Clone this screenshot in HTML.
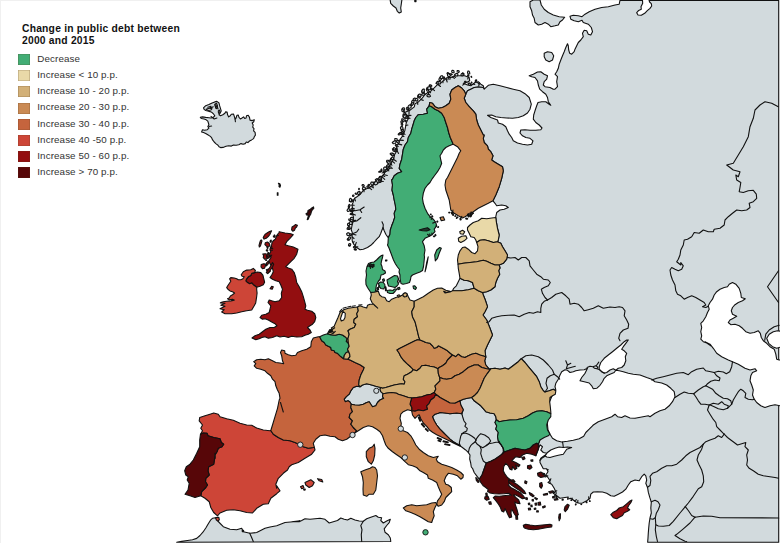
<!DOCTYPE html>
<html><head><meta charset="utf-8"><title>Change in public debt between 2000 and 2015</title>
<style>
html,body{margin:0;padding:0;background:#fff;}
body{width:780px;height:543px;overflow:hidden;position:relative;font-family:"Liberation Sans",sans-serif;}
svg{position:absolute;left:0;top:0;}
.c{stroke:#111;stroke-width:1.1;stroke-linejoin:round;}
.l{fill:none;stroke:#111;stroke-width:1.1;stroke-linejoin:round;stroke-linecap:round;}
.d{stroke:#111;stroke-width:0.9;}
.t{position:absolute;left:22px;top:23.4px;font-weight:bold;font-size:10.3px;line-height:12px;color:#111;white-space:nowrap;letter-spacing:0.22px;}
.sw{position:absolute;left:18.4px;width:11.6px;height:11px;box-shadow:inset 0 0 0 0.6px rgba(90,60,30,0.35);}
.lb{position:absolute;left:37.3px;font-size:9.8px;line-height:14px;color:#333;white-space:nowrap;letter-spacing:0.1px;}
</style></head><body>
<svg width="780" height="543" viewBox="0 0 780 543">
<path d="M0.5,0V543M0,0.5H620" fill="none" stroke="#f0f0f0" stroke-width="1"/>
<path class="c" fill="#d2dadd" d="M360,386.7 362.5,385 366.7,383.7 371.7,385 375.8,386.3 380.8,387.5 380,389.2 380.8,391.7 383,393.7 382.5,396.7 383.7,398.3 380,400 377.5,402.5 375.8,405.8 372.5,406.7 370.8,404.2 369.2,401.7 366.7,402.5 363.3,404.2 359.2,405.3 355,405 351.3,404.2 349.7,401.7 348,400.7 345.3,401.7 344.2,399.2 346.3,396.7 349.2,394.2 350.8,390.8 353.3,387.5 356.7,386.2Z"/>
<path class="c" fill="#d2dadd" d="M460,278.3 464.2,280.3 468.3,280.8 472.5,282.5 474.2,288.3 468.3,289.7 461.7,290.8 452.5,290.8 453.7,288.3 456.3,285.8 458.3,281.7Z"/>
<path class="c" fill="#d2dadd" d="M388.3,237.7 387.5,236.7 385.8,234.2 384.2,230.8 383,227.5 382,230 380.8,233.3 379.2,236.7 376.7,239.2 373.7,242.5 370.8,245.3 367.5,247.5 363.3,249.2 360,249.7 356.7,247.5 353.86,244.43 352.24,241.01 352.06,237.05 352.32,232.59 351.19,229.79 351.83,226.44 352.84,222.31 353.49,217.31 352.39,213.07 352.89,209.01 351.89,205.23 353.31,201.89 354.31,198.56 356.93,196.75 360.58,193.94 363.06,190.56 364.71,189.57 369.06,187.79 372.36,185.29 376.01,183.84 380.89,181.88 382.16,176.21 384.43,173.37 385.86,170.21 389.25,166.93 391.11,163.23 393.77,158.7 394.66,154.51 397.33,149.87 396.43,146.47 398.66,143.14 400.29,139.06 402.79,135.76 404.77,130.91 405.64,126.41 406.27,122.88 408.98,117.12 404.92,112.91 403.87,112.6 405.76,111.99 409.86,110.29 414.29,106.88 414.92,103.79 418.68,101.72 422.42,97.89 424.76,94.76 427.73,92.55 427.23,92.86 431.06,90.91 433.96,88.06 436.96,85.03 441.03,82.62 445.3,79.2 446.81,77.74 451.28,77.36 455,75.7 459.73,75.78 464.73,75.75 469.2,77.5 469.7,80.8 466.7,82.5 463.3,83.3 467.5,85 470.8,85.8 475,82.5 478.3,81.7 480.8,84.2 483.3,85.8 484.2,89.2 484.2,90.8 483.3,87.5 478.3,87 474.2,87.5 470.8,89.2 467.5,90.8 465.8,94.2 464.2,90.8 461.7,88 458.3,85.8 455,87.5 451.7,90 450,94.2 450.8,99.2 449.2,103.3 445.8,105.8 442.5,107.5 438.3,108.3 435,106.7 432.5,103.3 429.7,102.5 429.2,105.8 426.7,109.2 427.5,113.3 423.3,114.2 418.3,114.7 415.8,117.5 414.2,120.8 413,125 411.7,129.2 410.8,133.3 408.3,137.5 407.5,141.7 405,145 403.3,149.2 402.5,154.2 401.7,159.2 400,164.2 399.2,168.3 401.7,171.7 397.5,173.3 394.2,175.8 392.5,179.2 391.7,180 392.5,185 392,190 393.3,195 394.2,200 395.3,205 395.8,209.2 394.2,213.3 394.7,217.5 393.3,221.7 391.7,225.8 390.3,230 390,234.2Z"/>
<path class="c" fill="#d2dadd" d="M620,0.4 619.2,4.2 615,5 608.3,6.7 601.7,7.5 595,9.2 589.2,11.7 585,14.2 582,16.7 578.3,15.8 573.3,15.3 570,16.3 570.8,19.2 574.2,20.8 578.3,21.7 582,20.3 583.3,22.5 588.3,24.2 591.3,27.5 592.5,31.7 590.8,35 588.3,34.2 586.7,30.8 584.2,30.3 582.5,33.3 583.3,36.7 580.8,40 578.3,42.5 576.7,45.8 575,49.2 574.2,51.7 571.7,54.2 569.7,53.3 568.7,50 568.3,45.8 567.5,43.7 565.8,47.5 564.2,51.7 562.5,55.8 560.8,60 559.2,64.2 558.3,68.3 556.7,71.7 555,74.2 557.5,76.7 556.7,81.7 557.5,86.7 555,89.2 553.3,89.2 550,87.5 545,86.7 543.3,85 544.2,81.7 546.7,79.2 547.5,75.8 544.2,74.2 540.8,71.7 537.5,72 533.3,74.2 529.2,75.8 531.7,76.7 535,77.5 537.5,80.8 538.3,85 539.7,89.2 542.5,91.7 545.8,94.2 547.5,97.5 548.3,101.7 550.8,105.3 549.2,104.2 545.8,101.7 541.7,101.7 538,102.5 536.7,105.8 535,110.8 533.7,115 533.3,119.2 535.8,122.5 539.2,125 542,128 540.8,129.7 535.8,130.3 530,130.3 525,129.7 520.8,130 520,133 522.5,135.8 525.8,137.5 530,138.3 533,140.8 531.7,144.2 527.5,145 522.5,144.2 517.5,143 513.3,140.8 511.7,137.5 509.2,134.2 507.5,130.8 505.8,126.7 502.5,124.2 498.3,123 497.5,120 494.2,118.7 490.8,117.5 487.5,115.3 491.7,115 495.8,116.7 500.8,117.5 506.7,118 512.5,118.3 518.3,117.5 523.3,115.8 527.5,113 530,109.2 531.3,104.2 529.2,97.5 525,93.7 520,90.8 513.3,89.2 506.7,87.5 500,85.8 493.3,84.2 488.3,85.3 484.2,89.2 483.3,87.5 478.3,87 474.2,87.5 470.8,89.2 467.5,90.8 465.8,94.2 464.2,98.3 465.8,102.5 469.2,106.7 473.3,110.8 475.8,114.2 476.7,120 478.3,125 480.8,130 483.3,135 484.2,135 483.3,138.3 484.2,142.5 487.5,145.8 488.3,149.2 490.8,151.7 493,155.8 491.7,160 494.2,161.7 498.3,164.2 502.5,166.7 503.3,170.8 501.7,178.3 499.2,186.7 495.8,195 493,200.8 495,203.3 496.7,205.8 501.7,205 505.8,205.8 508.3,207.5 504.2,209.2 500,210 496.7,212.5 495.8,216.7 495.8,217.5 496.3,221.7 497.5,228.3 499.2,235 498.3,240 497.5,241.7 500.8,243.3 502.5,246.7 505,250.8 507.5,255 506.7,259.2 503.3,263.3 499.2,265 500,268 498.7,270.8 499.7,274.2 497.5,278.3 495.8,282.5 495,286.7 490.8,290 486.7,291.7 482.5,292.5 483.3,295 485.3,300 487.5,306.7 485,311.7 483,315 486.7,320 490,328.3 492.5,335 490,340 487.5,345 485,350.8 485.8,357 484.7,360.8 485.8,365 489.2,369.2 490.8,368.8 495,368.3 500,369.2 505,368 508.3,369.2 511.7,366.7 515,364.2 518.3,361.7 521.3,358.7 525,362.5 528.3,366.7 532.5,371.7 536.7,376.7 539.2,381.7 540.8,386.7 543.3,390.8 545,392 549.2,390.8 553.3,389.2 555.8,390.8 548,400 545,425 538.3,444.2 538.3,449.2 536.7,453.3 535.8,455.8 540,444.7 542.5,446.7 540.8,450 543.3,452.5 546.7,453.3 550,451.3 547.5,453.7 544.2,455.8 540.8,458.3 540,460 540,462.5 543.3,468.7 546.7,468.7 548,471.7 545.8,475 548.3,478 550,480.8 548,482.5 551.7,484.2 554.2,488.3 555.8,491.7 553.3,493.3 556.7,495.8 560,498.3 565,497.5 568.3,497 567.5,499.2 570.8,498.3 573.3,500 575.8,502 579.2,503.3 582.5,503 586.7,500.8 590,498.3 590.8,494.2 593.3,492 597.5,491.7 602.5,492 606.7,493.3 610.8,495.8 614.2,496.3 618.3,494.2 622.5,492 625.8,489.2 628.3,485 630.8,481.7 635,480 639.2,480.8 641.7,476.7 644.2,474.2 645.8,475.8 646.7,480 645.8,483.3 647.5,487.5 647.5,487.2 648.3,492.2 649.7,497.2 651.3,502.2 650.8,508 651.3,513 650,518 649.2,523 648.7,528 648.3,533 648,538 647.7,541.5 647.7,542.2 778.7,542.2 778.7,0.4Z"/>
<path class="c" fill="#d2dadd" d="M544.2,53.3 547.5,51.7 551.7,52.5 553.7,55.8 552.5,60 549.2,61.7 545.8,60 544.2,56.7Z"/>
<path class="c" fill="#d2dadd" d="M530,1.7 533.3,0 540,0 541.3,5 544.2,9.2 548.3,12.5 553.3,15 559.2,16.7 564.7,17.2 562.5,20 560,21.7 558.3,25 555,25.8 550.8,26.7 548.3,24.2 545,22.5 541.7,24.2 538.3,25 535,22.5 534.2,18.3 532.5,15 531.7,10.8 530,6.7Z"/>
<path class="c" fill="#d2dadd" d="M461.7,413.7 456.7,413 450,413.7 445,413 440,412.5 438.3,413.3 435,414.2 432.5,416.7 434.2,420.8 436.7,425 440,429.2 443.3,432.5 446.7,435.8 450,439.2 453.3,441.7 456.7,443.7 460,445.3 460,445.7 462.7,447.7 465.3,449.7 468,452.1 470,455 469.7,459 470.7,463 471.3,467 472.5,468.3 474.2,472.5 476.7,475.8 479.2,479.2 482,475 483.8,470 485.3,465.8 486.3,463 490.8,461.3 495.3,459 500,455.8 504.2,452 503.3,448.3 500.8,444.2 498.3,440.8 497.5,436.7 498.3,432.5 495.8,429.2 496.7,425.8 495,422.5 496.3,419.7 495.8,416.7 494.2,413.7 490,413 485.8,411.7 483.7,409.2 480.8,405.8 477.5,403.3 474.2,400.8 471.7,397.5 467.5,398.3 463.3,399.2 460,400.8 460.8,405 463.3,409.7Z"/>
<path class="c" fill="#d2dadd" d="M176.7,542.2 181.7,541.3 187.5,540.5 192.5,539.7 196.7,538.4 200,535.5 202.9,532.2 205.8,528 208.3,523.8 210.8,519.8 212.7,518.2 215.3,517.7 216.7,518.7 218.7,522 223.3,526.7 230,529.2 236.7,529.7 241.7,528.3 243.3,531.7 250,533.3 256.7,532.5 265,528.3 270,527 276.7,525.8 285,522.5 293.3,521.7 300,520.8 291.7,521.7 299.2,521.7 301.7,520.5 305,518.8 310,519.3 315,518.8 320,518.3 325,519.3 329.2,523 333.3,521.7 337.5,520.5 340.8,518 344.2,519.3 347.5,520 350.8,518.3 355,520 359.2,521 363.3,521.3 366.7,518.8 370.8,517.2 375.8,515.5 378.3,517.2 381.7,517.7 380.8,520.5 383.3,523 386.7,521 390.3,519.3 389.2,522.7 386.7,525.5 384.2,528.8 385,532.2 388.3,534.7 390.3,538 390.8,541.5Z"/>
<path class="c" fill="#d2dadd" d="M203.5,107.8 205.7,105.7 208.9,104.6 212.1,103 214.8,101.9 216.9,101.4 219,103 219.6,105.7 220.6,108.9 221.2,111 220.1,113.2 219,114.8 220.6,115.8 222.8,114.8 224.9,113.2 225.5,111.9 227.1,112.1 227.6,114.8 228.7,116.9 230.3,115.8 231.3,114.2 233.5,114 234.3,116.4 235.1,119 236.1,118 236.9,115.3 238.3,115.1 239,117.4 240.4,119 242,118 243.6,116.9 244.7,118.5 246.1,118 246.5,115.8 248.2,115.3 249.5,117.4 250,120.1 252.2,120.6 254.3,119.8 253.8,121.7 252.2,123 253.2,124.9 252.7,127.1 254,128.7 253.6,130.8 255.1,132.4 255.4,135.1 254.3,136.7 253.6,138.6 251.6,139.9 249.5,141 247.9,142.6 246.3,142 245.2,143.6 243.1,144.2 241,143.6 238.8,144.7 236.1,145.2 233.5,145 231.3,146.1 228.7,145.8 226,146.3 223,147.4 220.6,147.6 219,146.8 218,145.2 215.8,143.6 214.2,142 212.6,139.9 211.6,137.7 210,136.1 207.8,134.8 205.7,133.5 203.5,132.6 201.6,131.9 202.5,129.7 204.6,130.3 207.3,129.7 208.9,128.1 207.8,126.5 208.9,124.9 208.4,123 207.8,121.2 206.2,119.8 204.1,119 201.4,118.5 200.3,117.4 202.5,116.9 205.7,117.4 208.9,117.7 211,118 213.2,117.4 214.8,115.8 213.7,114.2 212.1,112.6 210,111.6 207.8,111 205.7,110.5 204.1,109.4Z"/>
<path class="c" fill="#d2dadd" d="M390,-1 390.7,3.3 393.3,6 396,8 397.3,11.3 399.3,13 401.3,12 400.7,8 401.3,4 402,-1Z"/>
<path class="c" fill="#ffffff" d="M555.8,390 555,386.7 555.8,383.3 558.3,379.2 560,375 561.7,371.7 565,369.7 567.5,370.3 570,372.5 573.3,371.7 575.8,370.8 580,370 584.2,369.7 587.5,368.3 585,373.3 581.7,377.5 580,380.8 584.2,381.7 589.2,383 591.7,385.8 593.3,388.7 596.7,388.3 600,385.3 602.5,381.7 604.2,378.3 606.7,375.8 610,374.2 614.2,372.5 615.8,370.3 619.2,370.8 623.3,371.7 628.3,373.3 633.3,374.2 640,375 646.7,377.5 651.7,379.2 655,381.7 661.7,383 666.7,385 670.8,388.3 674.2,391.7 675,396.7 672.5,401.7 669.2,405.8 665,409.2 660,410.8 655,413.3 650,416.7 648.3,415.8 641.7,417 635,418.3 630,418 625,415.8 621.7,417.5 617.5,416.7 615,414.2 611.7,416.7 605,419.2 598.3,421.7 593.3,425 592.5,425.8 589.2,429.2 585.8,432.5 583.7,436.3 579.2,438.7 573.3,440.3 567.5,441.3 561.7,442 556.7,440.8 552.5,438.3 550,434.2 548,430 546,410 552,396Z"/>
<path class="c" fill="#ffffff" d="M615.8,370.3 618.3,368.3 621.7,367.5 624.2,365 625.8,360.8 625.3,356.7 626.7,353.3 624.2,350.8 621.7,349.2 623.3,346.7 625.8,343.3 628.3,340 626.7,340 624.2,341.7 620.8,345 616.7,348.3 612.5,351.7 608.3,355 604.2,358.3 600.8,362.5 599.2,366.7 599.2,369.2 601.7,371.7 604.2,373.3 606.7,372.5 610,370 613.3,368.7Z"/>
<path class="c" fill="#ffffff" d="M547.5,452.5 550.8,450 555,448.3 559.2,447 563.3,447.5 567.5,447 571.7,447.5 566.7,449.2 565,451.7 563.3,454.2 558.3,455.3 554.2,456.3 550,457.5 546.7,457 545,455.8Z"/>
<path class="c" fill="#ffffff" d="M732.5,282.5 735.8,284.2 739.2,288.3 740.8,293.3 741.3,297.5 745.3,298.7 742.5,300.8 738.3,302.5 735,304.7 732.5,307.5 731.3,310.8 732.5,314.2 736.7,316.3 733.3,318.3 730,320 728.3,322.5 730.8,324.7 735,324.2 739.2,325.8 742.5,328.3 745.8,331.7 750,333.3 754.2,332.5 758.3,330.8 760.3,333.3 761.3,337.5 763.3,340.8 766.7,343.3 770,346.7 774.2,349.2 775.8,354.2 776.7,359.2 779.2,360 790,360 790,406 780,405.8 775,404.7 770,405.8 765,407.5 760.8,405.8 756.7,402.5 754.2,399.2 752.5,395 753.3,390 751.7,385 750,380.8 750.8,375.8 752.5,372.5 756.7,370.8 755,368.7 750,370 745,368.3 738.3,364.2 732.5,361.7 728.3,360 721.7,356.7 716.7,353.3 713.3,348.3 710,344.2 705,341.7 710.8,345.8 707.5,343.3 703.3,341.7 700.8,339.2 701.7,335.8 700.8,331.7 701.7,327.5 700.8,323.3 703.3,320.8 705.8,316.7 707.5,312.5 709.2,309.2 708.3,305.8 710,302.5 712.5,299.2 714.2,295 716.7,291.7 720,289.2 724.2,287.5 727.5,286.7 729.2,284.2Z"/>
<path class="c" fill="#ffffff" d="M642.4,-1 642.7,3.3 641,6.7 641.3,9.3 638.7,10.4 636.7,12.7 638,15 641.3,15.3 644.7,13.3 647.3,10.7 650,8.3 651.7,6 651.3,3.7 649.6,2 648.7,-1Z"/>
<path class="c" fill="#ffffff" d="M766.7,338.3 769.2,334.2 773.3,331.7 777.5,330.8 781.7,331.3 781.7,346.7 776.7,348.3 772.5,346.7 768.7,343.3Z"/>
<path class="c" fill="#cd4537" d="M199.7,417.5 205,415.8 210,414.2 213.7,413 218.3,414.2 220,416.7 226.7,418.7 233.3,420.3 240,423.3 246.7,425 251.7,425.3 256.7,428 263.3,430 270,430.8 270.8,430.5 273.3,434.2 278.3,437.5 283.3,440 290,440.8 295,442.5 300,444.7 303.3,446.7 308.3,448.3 313.3,447.5 314.3,447.2 315,450 311.7,454.2 305,458.3 298.3,462.5 291.7,464.7 289.2,466.7 287.5,470 283.3,473.3 278.3,478.3 275.8,484.2 276.7,488.3 276.7,485.8 280,490.8 276.7,493.7 270.8,498.3 268.3,503.7 263.3,504.2 256.7,508.3 252.5,513 246.7,512.5 240,510.8 233.3,509.7 226.7,510.3 220,513 217.5,515.8 213.7,512.5 210.8,507.5 209.2,501.7 205,498.3 200.8,495.8 201.7,491.7 205.8,487.5 207.5,485 205.5,481.7 205.8,478.3 209.2,475 208,470.8 208.7,466.7 213.7,464.2 214.7,458.3 215,453.3 215,458.3 215,455 217,451.7 218.3,448.3 222,446.7 223.7,444.2 221.3,442.5 220,438.7 213.7,437.5 208,435.8 207,433.3 203.3,433 200.5,434.2 202.5,430.8 200.8,428.3 202.5,425 199.2,420.8Z"/>
<path class="c" fill="#570608" d="M200.5,434.2 203.3,433 207,433.3 208,435.8 213.7,437.5 220,438.7 221.3,442.5 223.7,444.2 222,446.7 218.3,448.3 217,451.7 215,455 215,458.3 215,453.3 214.7,458.3 213.7,464.2 208.7,466.7 208,470.8 209.2,475 205.8,478.3 205.5,481.7 207.5,485 205.8,487.5 201.7,491.7 200.8,495.8 195,497.5 190,495.8 185,494.2 188,490 189.2,483.3 187.2,480 188.3,476.7 185.8,475 184.7,470.8 186.3,466.7 186.3,466.7 190,464.2 193.3,460 196.7,453.3 199.7,446.7 199.7,440Z"/>
<path class="c" fill="#cd4537" d="M305,482.5 310.8,479.7 314.2,482.5 312.5,485.8 309.2,487.5 305.8,485Z"/>
<path class="c" fill="#cd4537" d="M317.5,478.7 321.7,479.5 322.8,482 319.2,480.8Z"/>
<path class="c" fill="#cd4537" d="M300.5,486.7 303,485.5 304,488 301.7,488.7Z"/>
<path class="c" fill="#cd4537" d="M303.7,489.2 305.3,489 305,490.2 303.7,490Z"/>
<path class="c" fill="#c5643d" d="M319.7,336.7 321.7,340.8 324.2,342.5 325.8,345 328.3,346.3 330.8,347.5 331.3,350 334.2,350.8 335,352.5 337.5,353.3 340,355.8 342,357.5 343.7,358.7 348,359.2 350,360 355,362.5 360,364.7 364.2,367.5 363.3,370 360.8,375 359.2,380 358.7,385 360,386.7 356.7,386.2 353.3,387.5 350.8,390.8 349.2,394.2 346.3,396.7 344.2,399.2 345.3,401.7 348,400.7 349.7,401.7 351.3,404.2 351.3,404.2 350.8,407.5 352.5,411.7 350,414.2 349.2,417.5 352.5,420.8 350.8,424.2 353.3,427.5 356.7,430.8 354.2,433.3 350,436.7 346.7,439.2 342.5,440.8 338.3,439.2 335,436.7 330,436.3 325,435 320,435.8 315.8,439.2 313.3,443.3 314.3,447.2 313.3,447.5 308.3,448.3 303.3,446.7 300,444.7 295,442.5 290,440.8 283.3,440 278.3,437.5 273.3,434.2 270.8,430.5 272.5,425 275,416.7 277.5,408.3 279.2,400 280,398.3 279.2,393.3 277.5,390 275.8,385.8 275,381.7 272.5,379.2 270.8,375.8 267.5,373.3 265,370.8 260.8,369.2 256.7,368.3 254.2,365.8 255.8,363.7 253.7,361.7 256.7,359.7 260.8,359.2 265,359.7 268.3,358.7 272.5,360.8 275.8,362.5 280,363 283.7,363.7 282.5,360.8 281.7,355.8 280.5,352.5 281.7,350 284.7,350.8 285,353.3 288.3,354.7 291.7,355.8 295.8,355.3 297.5,352.5 301.7,350.8 306.7,349.2 310.8,346.7 311.3,341.7 313.3,338 318.3,336.7Z"/>
<path class="c" fill="#42ad75" d="M343.7,358.7 342,357.5 340,355.8 337.5,353.3 335,352.5 334.2,350.8 331.3,350 330.8,347.5 328.3,346.3 325.8,345 324.2,342.5 321.7,340.8 319.7,336.7 323.3,335 327.5,333.7 330.8,334.7 335,335.3 339.2,334.2 342.5,335 345,336.7 347,338.7 346.3,341.3 348.3,343 349.2,346.3 347.5,349.2 348.7,351.7 346.3,352.5 344.3,355.3Z"/>
<path class="c" fill="#d2b078" d="M343.7,358.7 348,359.2 350,356.7 349.7,354.2 348.7,351.7 346.3,352.5 344.3,355.3Z"/>
<path class="c" fill="#d2b078" d="M327.5,333.7 328.7,331.3 330.8,332 329.7,329.7 332.5,330 331.3,328 334.2,326.3 335.8,322.5 338,317.5 340,312.5 343.7,309.7 348.3,308.3 353.3,307.5 357.5,307 358.3,310.8 356.7,313.7 357.5,316.7 354.2,319.2 353.7,322.5 355.8,324.2 354.2,327.5 350,329.2 348,330.8 349.2,334.2 348,338.3 348.3,343 346.3,341.3 347,338.7 345,336.7 342.5,335 339.2,334.2 335,335.3 330.8,334.7 327.5,333.7Z"/>
<path class="c" fill="#ffffff" d="M343,311.3 345.3,313.3 345,317.5 343.7,320 341.3,321 340.5,318.7 341.7,315Z"/>
<path class="c" fill="#930e10" d="M279.2,231.7 285,233 290.8,233.7 293.3,234.7 290,238.3 286.7,241.7 285,244.7 288.3,245.8 293.3,247 298,249.2 296.7,254.2 294.2,258.3 290.8,261.7 288.3,264.2 285.8,266.7 288.3,268 291.7,269.2 294.2,272.5 295.8,277.5 296.7,282.5 299.2,286.7 301.7,291.7 303.3,296.7 304.7,301.7 305.8,305.8 305,309.2 307.5,310.3 311.7,311.3 314.7,313.7 315.8,317.5 314.7,321.7 312.5,324.2 310,325.8 307.5,327.5 310,330 311.3,332.5 308.3,334.2 305,335.3 301.7,336.7 296.7,337 291.7,336.3 288.3,337.5 284.2,336.3 280,337 276.7,335.8 272.5,337.5 268.3,338.3 265,336.7 262,337.5 259.2,338.7 255.8,339.7 252,338 255,335.8 259.2,334.2 262.5,331.7 265.8,329.2 270,327.5 274.2,327.5 277,325.8 275,323.7 271.7,322 268.3,320 265,318.7 262.5,319.2 260,317.5 261.7,315.3 265.8,314.2 269.2,312.5 270,309.2 270.8,305.8 268,302.5 269.2,300 271.7,300.8 275,301.7 279.2,300.8 281.7,297.5 281.3,293.3 282.5,289.2 280.8,285 279.2,281.7 275.8,280.8 272.5,279.2 270,277.5 271.7,275 273.3,271.7 272.5,268.3 268.7,261.2 269.9,259.1 271.2,257 269.9,255.3 269.5,253.7 270.8,251.6 269.9,249.5 270.8,247 271.6,244.9 272,242.8 273.2,240.8 275.3,239.1 276.2,237 277.4,234.5 279.5,232Z"/>
<path class="c" fill="#930e10" d="M271.6,230.8 270.8,232.4 269.9,234.5 268.2,236.6 266.2,238.2 264.1,239.1 263.2,237.8 264.1,235.8 265.3,234.1 267.4,232.8 269.5,231.6Z"/>
<path class="c" fill="#930e10" d="M261.2,239.9 262,240.8 261.3,243.2 260.5,245.8 259.3,247 259,245.3 259.7,242.8 260.3,240.8Z"/>
<path class="c" fill="#930e10" d="M265.3,242.8 267.4,242 269.1,243.2 269.9,244.9 269.1,246.6 267.4,247 266.2,245.8 264.9,244.5Z"/>
<path class="c" fill="#930e10" d="M262.8,254.1 265.3,253.7 268.2,254.5 269.9,255.8 269.1,257.4 267,258.7 264.5,259.1 263.2,257.4 263.7,255.8Z"/>
<path class="c" fill="#930e10" d="M261.2,264.5 263.7,263.7 265.8,264.1 265.3,266.2 264.5,268.2 262.4,268.7 261,267Z"/>
<path class="c" fill="#930e10" d="M266.6,262.8 268.2,261.2 269.1,262 267.8,264.5 266.3,265.8Z"/>
<path class="c" fill="#930e10" d="M266.3,269.7 269.2,268.7 270.3,271.3 268,273Z"/>
<path class="c" fill="#930e10" d="M292,227 294.1,225.8 295.3,224.5 297.4,225.3 296.6,227 295.3,228.2 294.5,230.3 292.8,231.2 291.6,229.9Z"/>
<path class="c" fill="#3a0508" d="M313.5,206.9 313.8,208.3 312.1,210.2 311.3,212.1 310.7,214.3 309.3,216.5 308.2,219.3 307.2,219.6 308,217.1 308.5,215.2 306.6,214.9 306,213.8 307.7,212.7 308,210.5 309.9,209.6 311.8,208Z"/>
<path class="c" fill="#930e10" d="M270,288.7 271.7,286.3 273.3,286.7 272.2,289.3Z"/>
<path class="c" fill="#930e10" d="M256.7,287.2 255.4,286.3 253.3,284.7 251.7,283 249.6,283.8 247.5,282.6 245.8,280.9 246.7,278.8 248.3,276.8 250.8,275.5 251.7,273.4 254.6,272.6 257.5,272 260.8,272.6 262.9,275.1 263.8,278.8 264.6,282.2 263.3,284.7 260,286.3Z"/>
<path class="c" fill="#cd4537" d="M241.2,274.7 243.3,271.8 246.7,270.1 250.8,269.7 253.3,268.4 255.4,270.5 254.6,272.6 251.7,273.4 250.8,275.5 248.3,276.8 246.7,278.8 245.8,280.9 247.5,282.6 249.6,283.8 251.7,283 253.3,284.7 255.4,286.3 256.7,287.2 256.7,289.7 257.1,293 256.7,296.3 256.2,299.7 255.7,303 254.2,305.8 251.7,310 246.7,310.8 241.7,311.7 236.7,313 231.7,313.7 225,313.7 221.7,312 224.2,309.7 220,308.7 225,306.3 220.8,305.3 225,303.3 220.3,303 220.8,302.6 223.3,301.8 226.7,301.3 230.8,300.9 234.2,300.1 232.5,299.2 229.2,299.7 227.5,298.8 229.2,298 230.4,295.9 232.5,294.7 234.6,293 232.5,291.8 230,290.9 227.9,289.2 226.7,287.6 227.9,285.5 229.6,283 230.8,281.3 229.6,278.8 230.8,277.6 234.2,278 236.7,278.8 238.3,279.8 240.8,279.7 242.9,278.8 244.2,276.8 242.1,276.3Z"/>
<path class="c" fill="#d2b078" d="M357.5,307 360,305.8 363.3,307 366.7,308 367.5,305.3 370,304.2 373.3,304 377.7,308.2 374.2,305 372,302.5 370.3,298.7 371.3,295 370.8,292.5 374.2,292 378.3,291.3 379.7,295 381.7,296.7 385,297.5 386.7,300.8 389.2,301.7 391.7,299.2 395.8,297.5 400,296.3 402.5,295 404.2,293 406.7,293.3 408.3,296.7 410,300 414.2,301.3 414.2,306.7 411.7,311.7 412.5,316.7 415,321.7 416.3,326.7 417.5,331.7 418.7,336.7 420,340 417.5,339.7 415,340.8 410,343.3 405,345.8 400,348.3 397,350 399.2,353.3 400.8,356.7 403.3,360 406.7,363.3 410.8,367 413.3,369.7 411.7,371.7 407.5,374.2 404.2,375.8 403.3,379.2 405,381.7 404.2,384.2 401.7,383.7 398.3,384.2 394.2,385 390,386.3 385.8,387.5 382.5,388.3 380.8,387.5 375.8,386.3 371.7,385 366.7,383.7 362.5,385 360,386.7 358.7,385 359.2,380 360.8,375 363.3,370 364.2,367.5 360,364.7 355,362.5 350,360 348,359.2 350,356.7 349.7,354.2 348.7,351.7 347.5,349.2 349.2,346.3 348.3,343 348,338.3 349.2,334.2 348,330.8 350,329.2 354.2,327.5 355.8,324.2 353.7,322.5 354.2,319.2 357.5,316.7 356.7,313.7 358.3,310.8Z"/>
<path class="c" fill="#ca8a54" d="M413.3,369.7 410.8,367 406.7,363.3 403.3,360 400.8,356.7 399.2,353.3 397,350 400,348.3 405,345.8 410,343.3 415,340.8 417.5,339.7 420,340 423.3,341.3 425.8,342.5 430,343.3 432.5,345.8 434.2,348.3 436.7,347.5 438.3,345.8 441.7,347.5 445,349.2 447.5,350.8 450,353 452.5,355 450,357.5 447.5,360 445.8,363.3 442.5,365.8 439.2,367.5 438,368.7 434.2,367 430,366.3 425.8,365.3 421.7,365.8 420,368.3 416.7,370.8Z"/>
<path class="c" fill="#d2b078" d="M413.3,369.7 411.7,371.7 407.5,374.2 404.2,375.8 403.3,379.2 405,381.7 404.2,384.2 401.7,383.7 398.3,384.2 394.2,385 390,386.3 385.8,387.5 382.5,388.3 380.8,387.5 380,389.2 380.8,391.7 383,393.7 387.5,393 391.7,392.5 396.7,393.3 398.3,394.2 403.3,395.8 408.3,397.5 411.7,398 416.7,397.5 421.7,396.7 426.7,395 430.8,394.2 434.2,392.5 435.8,389.2 435,385.8 437.5,383.3 440,380.8 439.7,377.5 438.3,373.3 438,368.7 434.2,367 430,366.3 425.8,365.3 421.7,365.8 420,368.3 416.7,370.8Z"/>
<path class="c" fill="#930e10" d="M411.7,398 416.7,397.5 421.7,396.7 426.7,395 430.8,394.2 434.2,392.5 435.8,394.2 434.2,397.5 430.8,400 429.2,403.3 426.7,405.8 427.5,409.2 423.3,410.8 418.3,410 415,411.3 411.7,410.8 411.7,407.5 410,404.2 410.8,400.8Z"/>
<path class="c" fill="#d2b078" d="M414.2,301.3 418.3,299.2 423.3,296.7 428.3,293.3 433.3,290 437.5,288.3 441.7,288 445.8,290.3 450,291.3 446.7,292.5 443.7,291.3 445,293 450,292 452.5,290.8 461.7,290.8 468.3,289.7 474.2,288.3 478.3,290.8 482.5,292.5 483.3,295 485.3,300 487.5,306.7 485,311.7 483,315 486.7,320 490,328.3 492.5,335 490,340 487.5,345 485,350.8 485.8,357 484.2,356.3 480,355 475.8,353.3 471.7,354.2 468.3,355.8 465,357.5 461.7,356.7 458.3,354.2 455.8,356.7 452.5,355 450,353 447.5,350.8 445,349.2 441.7,347.5 438.3,345.8 436.7,347.5 434.2,348.3 432.5,345.8 430,343.3 425.8,342.5 423.3,341.3 420,340 418.7,336.7 417.5,331.7 416.3,326.7 415,321.7 412.5,316.7 411.7,311.7 414.2,306.7Z"/>
<path class="c" fill="#e9d9a8" d="M476.7,242.5 475.8,240 474.2,237.5 470.8,236.7 469.2,233.3 467.5,230 467.5,227.5 470,225 473.3,222.5 478.3,220.8 481.7,218.3 486.7,218.7 491.7,218 495.8,217.5 496.3,221.7 497.5,228.3 499.2,235 498.3,240 497.5,241.7 493.3,242.5 488.3,240.8 484.2,239.7 480,240.3Z"/>
<path class="c" fill="#e9d9a8" d="M458.3,238.3 461.7,236.3 465.8,235.8 467,238.3 464.2,240.8 460.8,242.5 458.7,241.3Z"/>
<path class="c" fill="#e9d9a8" d="M459.7,231.7 462.5,230.3 464.7,231.7 463.3,234.2 460.3,233.7Z"/>
<path class="c" fill="#d2b078" d="M476.7,242.5 478,246.7 477.5,250.8 475,253.7 471.7,252.5 468.3,249.2 465,247 462.5,247.5 460,250.8 458.3,255 457.5,260 458,264.2 463.3,263.3 470,262.5 476.7,261.7 483.3,260.3 486.7,261.3 490.8,263.3 495,265 499.2,265 503.3,263.3 506.7,259.2 507.5,255 505,250.8 502.5,246.7 500.8,243.3 497.5,241.7 493.3,242.5 488.3,240.8 484.2,239.7 480,240.3Z"/>
<path class="c" fill="#d2b078" d="M499.2,265 495,265 490.8,263.3 486.7,261.3 483.3,260.3 476.7,261.7 470,262.5 463.3,263.3 458,264.2 458.3,268.3 459.2,273.3 460,278.3 464.2,280.3 468.3,280.8 472.5,282.5 474.2,288.3 478.3,290.8 482.5,292.5 486.7,291.7 490.8,290 495,286.7 495.8,282.5 497.5,278.3 499.7,274.2 498.7,270.8 500,268Z"/>
<path class="c" fill="#42ad75" d="M429.2,105.8 431.7,106.7 435,109.2 438.3,110.8 441.7,113.3 444.2,117.5 445.8,122.5 447.5,127.5 448.7,132.5 450.3,137.5 452.5,142.5 453,144.2 449.2,145.8 445.8,147.5 443.3,150 441.7,153.3 440,155.8 440.8,160 441.7,163.3 440,167.5 437.5,171.7 435,175 432.5,178.3 430,182.5 427.5,185 425,188.3 423.3,193.3 422.5,198.3 423.3,203.3 425,208.3 427.5,213.3 430,216.7 433.3,219.2 435.8,222.5 436.7,225.8 434.2,229.2 435,231.7 431.7,235 428.3,236.7 425,238.3 422.5,241.7 424.2,245.8 425,250 424.2,255 424.5,257 424,262 423.5,266.5 422.5,270.5 420,272 416,273.5 412.5,275 411,276.5 410.5,279.5 409.5,282.5 406.5,283.5 403,284.2 401,283.5 400.5,281 400,278 400,275 399,272 399.5,269.5 397.5,267 395.5,264 393.5,260 392,256 390.5,252 389,248 387.5,245 388,243.3 388.3,237.7 390,234.2 390.3,230 391.7,225.8 393.3,221.7 394.7,217.5 394.2,213.3 395.8,209.2 395.3,205 394.2,200 393.3,195 392,190 392.5,185 391.7,180 392.5,179.2 394.2,175.8 397.5,173.3 401.7,171.7 399.2,168.3 400,164.2 401.7,159.2 402.5,154.2 403.3,149.2 405,145 407.5,141.7 408.3,137.5 410.8,133.3 411.7,129.2 413,125 414.2,120.8 415.8,117.5 418.3,114.7 423.3,114.2 427.5,113.3 426.7,109.2 429.2,105.8Z"/>
<path class="c" fill="#42ad75" d="M434.7,255 436.7,250 439.7,247.5 441.3,248.3 439.2,253.3 437.5,258.3 435.3,260.8Z"/>
<path class="c" fill="#42ad75" d="M428.2,256.8 427.4,262 426.2,267.5 425,271.8 425.6,268.5 426.6,263Z"/>
<path class="c" fill="#1c3a2a" d="M419.2,230 423.3,228.7 427.5,227.8 430,229.7 426.7,231 422.5,230.7Z"/>
<path class="c" fill="#ca8a54" d="M429.2,105.8 429.7,102.5 432.5,103.3 435,106.7 438.3,108.3 442.5,107.5 445.8,105.8 449.2,103.3 450.8,99.2 450,94.2 451.7,90 455,87.5 458.3,85.8 461.7,88 464.2,90.8 465.8,94.2 464.2,98.3 465.8,102.5 469.2,106.7 473.3,110.8 475.8,114.2 476.7,120 478.3,125 480.8,130 483.3,135 484.2,135 483.3,138.3 484.2,142.5 487.5,145.8 488.3,149.2 490.8,151.7 493,155.8 491.7,160 494.2,161.7 498.3,164.2 502.5,166.7 503.3,170.8 501.7,178.3 499.2,186.7 495.8,195 493,200.8 488.3,203.3 483.3,205.8 478.3,208.3 473.3,211.7 469.2,214.2 465,216.7 462.5,218 458.3,215.8 454.2,213.3 450.8,210 450,205 449.2,200 447.5,195 445.8,190 445,185 445.8,180 447.5,177.5 450,172.5 452.5,167.5 455,162.5 457.5,157.5 459.2,153.3 460.8,150.8 457.5,146.7 453.3,144.2 453,144.2 452.5,142.5 450.3,137.5 448.7,132.5 447.5,127.5 445.8,122.5 444.2,117.5 441.7,113.3 438.3,110.8 435,109.2 431.7,106.7Z"/>
<path class="c" fill="#ca8a54" d="M440,217.5 443.3,216.7 444.7,220 441.3,220.8Z"/>
<path class="c" fill="#42ad75" d="M383,255 382.5,257.5 381.5,261 381,264 382,266.5 382.5,269.5 385,271 385.5,273 383,274.5 381,275 380.5,277.5 380,279.5 378.5,281 377.5,283 376.5,285 376,287.5 375.5,290.5 378.3,291.3 374.2,292 370.8,292.5 367.5,287.5 366,284.5 365.8,280 366.5,275 366,271 367,266.5 368.5,263.5 371,262.5 374,262 376.5,260 379.5,257 381.5,255.5Z"/>
<path class="c" fill="#42ad75" d="M378.5,283.5 380.5,282 383,282.2 384.8,284.5 385,287 383.5,289 381,288.5 379,286.5Z"/>
<path class="c" fill="#42ad75" d="M387,280 389.5,278.5 392,277 394.5,275.5 397.5,276 398.5,279 397.5,281.5 398.5,284 397,286 395,287.5 393,287 391,286.5 388.5,286 387.5,283Z"/>
<path class="c" fill="#42ad75" d="M387,290.5 390,290 393,290.5 394.5,289 397,289 395,291.5 393,293.5 390,293.5 387.5,292.5Z"/>
<path class="c" fill="#42ad75" d="M413,286 414.8,285.8 416.5,287.8 415.5,289.5 413.5,288.5Z"/>
<path class="c" fill="#42ad75" d="M385.5,260 387,260 386.8,261 385.5,261Z"/>
<path class="c" fill="#ca8a54" d="M351.3,404.2 355,405 359.2,405.3 363.3,404.2 366.7,402.5 369.2,401.7 370.8,404.2 372.5,406.7 375.8,405.8 377.5,402.5 380,400 383.7,398.3 382.5,396.7 383,393.7 387.5,393 391.7,392.5 396.7,393.3 398.3,394.2 403.3,395.8 408.3,397.5 411.7,398 410.8,400.8 410,404.2 411.7,407.5 411.7,410.8 407.5,409.7 403.3,411.7 400.8,414.2 400,418.3 401.3,423.3 400.8,427.5 403.3,430.8 407.5,432.5 410.8,435.8 413.3,440 415.8,445 419.2,449.2 423.3,452.5 428.3,455.8 433.3,457.5 438.3,456.3 436.3,459.2 437.5,461.7 441.7,464.2 446.7,465.8 451.7,467.5 456.7,470 460.8,472.5 463.3,475 463,477.5 460.8,479.2 457.5,475.8 453.3,474.2 448.3,473.3 445.8,476.7 444.2,480.8 445.8,484.2 448.3,485 451.3,487.5 451.7,491.7 448.3,495 445.8,497.5 444.2,501.7 441.7,505 438.3,506.3 436.7,504.2 437.5,500.8 440,497.5 441.7,494.2 440,490.8 438.3,486.7 436.7,482.5 432.5,480 428.3,478.3 427.5,475 423.3,472.5 420,470.8 416.7,467.5 412.5,465.8 408.3,464.7 405,461.7 400.8,457.5 396.7,454.7 392.5,451.7 388.3,448.3 385.8,445 384.2,440.8 382.5,435.8 380,431.7 376.7,429.2 372.5,426.7 368.3,425.8 363.3,427.5 358.3,430.8 354.2,433.3 356.7,430.8 353.3,427.5 350.8,424.2 352.5,420.8 349.2,417.5 350,414.2 352.5,411.7 350.8,407.5Z"/>
<path class="c" fill="#ca8a54" d="M403.3,508 406.7,505.8 411.7,504.7 416.7,505.8 421.7,505.3 426.7,504.7 431.7,503 435.8,502.5 436.7,504.2 435,507.5 433.3,511.7 434.2,515.8 432.5,520 431.7,522.5 428.3,521.7 424.2,519.2 420,516.7 415,514.2 410.8,512.5 405.8,510.8Z"/>
<path class="c" fill="#ca8a54" d="M360.8,471.7 365,470 370,468.3 372.5,466.7 375,467.5 376.7,470 377.5,475.8 376.7,482.5 375.8,490 373.3,494.2 369.2,494.2 366.7,496.3 363.3,495 363,489.2 363.3,482.5 362.5,476.7Z"/>
<path class="c" fill="#c5643d" d="M374.2,444.2 375,448.3 374.7,455 373.3,460.8 371.3,464.2 368.3,461.7 366.3,456.7 366.3,451.7 369.2,448.3 372.5,446.7Z"/>
<path class="c" fill="#ca8a54" d="M438,368.7 439.2,367.5 442.5,365.8 445.8,363.3 447.5,360 450,357.5 452.5,355 455.8,356.7 458.3,354.2 461.7,356.7 465,357.5 468.3,355.8 471.7,354.2 475.8,353.3 480,355 484.2,356.3 485.8,357 484.7,360.8 485.8,365 489.2,369.2 486.7,368.7 481.7,367.5 478.3,365 474.2,365 468.3,367.5 463.3,371.7 459.2,374.2 455,375.8 451.7,378.3 446.7,379.3 443.3,378.7 439.7,377.5 438.3,373.3Z"/>
<path class="c" fill="#ca8a54" d="M439.7,377.5 443.3,378.7 446.7,379.3 451.7,378.3 455,375.8 459.2,374.2 463.3,371.7 468.3,367.5 474.2,365 478.3,365 481.7,367.5 486.7,368.7 489.2,369.2 490.8,368.8 487.5,373.3 484.2,378.3 481.7,384.2 480,388.3 477.5,392.5 474.2,395.8 471.7,397.5 467.5,398.3 463.3,399.2 460,400.8 455,403.3 450,403 445,400.3 440,397.5 435.8,394.2 434.2,392.5 435.8,389.2 435,385.8 437.5,383.3 440,380.8Z"/>
<path class="c" fill="#c5643d" d="M411.7,410.8 415,411.3 418.3,410 423.3,410.8 427.5,409.2 426.7,405.8 429.2,403.3 430.8,400 434.2,397.5 435.8,394.2 440,397.5 445,400.3 450,403 455,403.3 460,400.8 460.8,405 463.3,409.7 461.7,413.7 456.7,413 450,413.7 445,413 440,412.5 438.3,413.3 435,414.2 432.5,416.7 434.2,420.8 436.7,425 440,429.2 443.3,432.5 446.7,435.8 450,439.2 453.3,441.7 456.7,443.7 460,445.3 460.3,446.2 457.5,445 453.3,443 449.2,440.8 445,438.8 440.8,436.8 436.7,434.7 432.5,432.2 429.2,429.7 426.7,426.3 423.3,423 420.8,418.7 419.2,414.7 417.5,415.8 415,418.3 412.5,415Z"/>
<path class="c" fill="#c5643d" d="M419.2,416.7 420.8,420.8 420,421.3 418.3,417.5Z"/>
<path class="c" fill="#c5643d" d="M422,423.3 424.7,426.7 424,427.2 421.3,424.2Z"/>
<path class="c" fill="#c5643d" d="M425.8,428.3 428.3,430.8 427.8,431.3 425.3,429Z"/>
<path class="c" fill="#c5643d" d="M437.5,437.5 441.7,439.2 441.3,440 437.2,438.3Z"/>
<path class="c" fill="#c5643d" d="M443.3,440.8 448.3,442 448,442.8 443,441.7Z"/>
<path class="c" fill="#c5643d" d="M445,443.7 450,444.7 449.7,445.5 444.7,444.5Z"/>
<path class="c" fill="#c5643d" d="M438.3,440 440.8,441 440.5,441.7 438,440.7Z"/>
<path class="c" fill="#d2b078" d="M471.7,397.5 474.2,395.8 477.5,392.5 480,388.3 481.7,384.2 484.2,378.3 487.5,373.3 490.8,368.8 495,368.3 500,369.2 505,368 508.3,369.2 511.7,366.7 515,364.2 518.3,361.7 521.3,358.7 525,362.5 528.3,366.7 532.5,371.7 536.7,376.7 539.2,381.7 540.8,386.7 543.3,390.8 545,392 549.2,390.8 553.3,389.2 555.8,390.8 555.3,394.2 552.5,395.8 550,397.5 549.7,401.7 550.3,406.7 550.8,411.7 550.8,413.7 550.8,413.7 546.7,411.7 541.7,410.8 536.7,411.3 532.5,413 528.3,415.8 523.3,418.3 516.7,419.7 510,420 504.2,420.8 499.2,421.7 496.3,419.7 495.8,416.7 494.2,413.7 490,413 485.8,411.7 483.7,409.2 480.8,405.8 477.5,403.3 474.2,400.8 471.7,397.5Z"/>
<path class="c" fill="#42ad75" d="M496.3,419.7 499.2,421.7 504.2,420.8 510,420 516.7,419.7 523.3,418.3 528.3,415.8 532.5,413 536.7,411.3 541.7,410.8 546.7,411.7 550.8,413.7 550.8,416.7 548.3,420 546.7,425 547.5,430 550,434.2 548.3,435.8 544.2,437.5 540,440 538.3,444.2 536.7,443.3 533.3,445 530,448.3 525,450 520,449.2 515,448.3 510,450 504.2,452 503.3,448.3 500.8,444.2 498.3,440.8 497.5,436.7 498.3,432.5 495.8,429.2 496.7,425.8 495,422.5Z"/>
<path class="c" fill="#570608" d="M479.2,479.2 482,475 483.8,470 485.3,465.8 486.3,463 490.8,461.3 495.3,459 500,455.8 504.2,452 510,450 515,448.3 520,449.2 525,450 530,448.3 533.3,445 536.7,443.3 538.3,444.2 538.3,449.2 536.7,453.3 535.8,455.8 531.7,454.2 526.7,453.3 522.5,455 520,457.5 515.8,456.7 513.3,459.2 511.7,460.8 515.8,462.5 520,465 518.7,466.7 515.3,465 517,468 515,469.7 512.5,466.7 512,470 510,469.2 508.3,465.8 505.8,463.3 503.7,466.7 503.3,470.8 505,474.2 507.5,477.5 510.8,480 513.3,479.7 515,481.7 512.5,482.5 510,483 508.3,485 510.8,487.5 514.2,489.2 516.7,490.8 520,492.5 523.3,495.8 525,498.3 522.5,498.7 519.2,496.7 515.8,495 513.3,495 515.8,497.5 518.7,500 520,503.8 517,503.3 514.7,502 515.5,505.3 517.2,510.3 518.3,514.7 516.3,516.7 514.2,513.7 512.3,510 511.3,509.7 511,513.3 511.7,517 509.5,517.8 507.7,514.3 506.3,511 505,508.7 503.7,512 501.7,511 500.3,507.3 498.3,504 495.8,500.7 493.3,497.7 495.3,496 499.2,496.2 503.3,495.7 508.3,495.2 511.3,495.3 508.7,493.3 504.2,493.7 499.2,494 494.2,493.7 490,493 487.5,491.3 488.3,489.7 485.8,487.5 483.3,485.8 480.8,482.5Z"/>
<path class="c" fill="#570608" d="M508.7,479.7 512.5,481.7 516.7,484.2 520.8,487.5 524.2,490.8 525.8,493.7 523.3,493.3 520,490.8 515.8,488 511.7,485.3 508.7,482.5Z"/>
<path class="c" fill="#570608" d="M521.7,457.5 524.2,456.7 525,458.7 523,459.7Z"/>
<path class="c" fill="#570608" d="M530.8,460 532.8,459.7 532.8,461.3 531.2,461.3Z"/>
<path class="c" fill="#570608" d="M527.5,465.8 530.8,465 532,467.5 529.7,469.2 527.5,468.3Z"/>
<path class="c" fill="#570608" d="M537.5,473.3 540.8,472 544.7,474.2 544.2,476.7 540.8,477.5 538,475.8Z"/>
<path class="c" fill="#570608" d="M539.7,483.3 541.7,482.5 542.5,485.8 541.3,488.3 539.7,486.7Z"/>
<path class="c" fill="#570608" d="M548.7,491.7 552.5,490.8 553.3,492.5 550,493.3Z"/>
<path class="c" fill="#570608" d="M543.3,494.2 547.5,493.3 547.5,494.7 543.7,495.3Z"/>
<path class="c" fill="#570608" d="M525,480.8 527,481.7 526.3,483.7 524.7,483Z"/>
<path class="c" fill="#570608" d="M529.2,492.5 531.7,493.7 534.2,495.8 533,496.7 530,494.7Z"/>
<path class="c" fill="#570608" d="M535,497.5 537.5,498.7 536.7,499.7 534.7,498.3Z"/>
<path class="c" fill="#570608" d="M538,502.5 540.3,502 540.8,505 538.7,505.3Z"/>
<path class="c" fill="#570608" d="M535,503.3 536.7,503 537,505 535.3,505.3Z"/>
<path class="c" fill="#570608" d="M528.3,508.3 530.3,508 530.7,509.7 528.7,510Z"/>
<path class="c" fill="#570608" d="M525.8,497.5 527.5,498 527.2,499.7 525.8,499.2Z"/>
<path class="c" fill="#570608" d="M536.7,510.8 538.3,510.8 538.3,512 536.7,512Z"/>
<path class="c" fill="#570608" d="M534.2,508.3 535.8,508 535.8,509.3 534.3,509.5Z"/>
<path class="c" fill="#570608" d="M542.5,506.7 545,505.8 545.3,507 543,508Z"/>
<path class="c" fill="#570608" d="M554.2,499.2 557.5,498.3 558,499.7 554.7,500.3Z"/>
<path class="c" fill="#570608" d="M552.5,496.7 554.2,496.3 554.3,498 552.7,498Z"/>
<path class="c" fill="#570608" d="M565,506.7 567.5,504.2 569.2,505.3 567.5,509.2 565.3,511.7 564.2,510Z"/>
<path class="c" fill="#570608" d="M559.2,514.2 560.5,513.7 560.3,518.3 559.2,520.8 558.7,517.5Z"/>
<path class="c" fill="#570608" d="M523.3,525.3 525.8,524.2 530,525 535,525.8 540,525.3 545,524.7 550,524.2 552,525 551.7,527 547.5,527.5 543.3,528.3 538.3,529.2 533.3,529.7 528.3,529.2 525,528.3 523.7,527Z"/>
<path class="c" fill="#570608" d="M475.8,477.5 477.5,479.2 479.2,481.7 478,482.5 476.3,480.3Z"/>
<path class="c" fill="#570608" d="M485.8,493.3 487,493 487.3,495.8 486,495.8Z"/>
<path class="c" fill="#570608" d="M485,496.7 488,496.3 489.2,499.2 486.7,500.3 484.7,498.7Z"/>
<path class="c" fill="#570608" d="M488.7,502 490.8,501.7 491.3,504.2 489.3,504.2Z"/>
<path class="c" fill="#570608" d="M515.8,516.7 517.5,516.3 517.7,519.2 516,519.2Z"/>
<path class="c" fill="#570608" d="M532,499.7 533.3,499.3 533.5,501 532.2,501Z"/>
<path class="c" fill="#570608" d="M528.3,503.3 529.7,503 529.8,504.7 528.5,504.7Z"/>
<path class="c" fill="#570608" d="M530.8,505.3 532,505 532.2,506.7 531,506.7Z"/>
<path class="c" fill="#cd4537" d="M215.7,517.5 218.8,517.2 219.3,519.8 217.7,521.2 216.2,519.8Z"/>
<path class="c" fill="#111" d="M242.2,530.3 243.5,530.2 243.7,531.5 242.3,531.7Z"/>
<path class="c" fill="#333" d="M414.8,0.2 416,0.2 416,1.6 414.8,1.6Z"/>
<path class="c" fill="#930e10" d="M610.8,514.7 613.3,512.2 616.7,510.5 619.2,508 623.3,506.7 626.7,503.8 630,501 632,500 630.8,502.7 628.7,505.5 627.5,508 629.7,509.7 627.5,511.3 624.2,512.7 622.5,515.5 619.2,517.2 616.7,518.8 613.3,517.7Z"/>
<path class="c" fill="#930e10" d="M272.5,262.5 270.8,265.8 268.7,269.2 266.3,272.5 267.7,273.7 270.3,270.3 272.5,267 273.7,264.2Z"/>
<path class="c" fill="#222" d="M278.4,183.2 279.8,183.7 280.5,185.5 279.9,187.2 279,186.5 279.2,184.8Z"/>
<path class="c" fill="#222" d="M277.3,192.7 278,192.7 278,195.2 277.3,195.2Z"/>
<path class="c" fill="#42ad75" d="M382.5,279.5 384,278.8 384.6,280.8 383.2,281.6Z"/>
<path class="c" fill="#42ad75" d="M385,286.8 385.9,286.8 386.4,290.5 385.5,290.8Z"/>
<path class="c" fill="#42ad75" d="M397.5,288 399.5,287.4 400,289 398,289.6Z"/>
<path class="c" fill="#42ad75" d="M376.8,288 378,287.5 378.6,289.5 377.2,290.2Z"/>
<path class="c" fill="#1f4a35" d="M368.8,264.8 370.8,263.8 372.2,265 373.5,264.2 374.2,266.2 372.5,267.6 371.2,266.4 369.8,266.8Z"/>
<path class="c" fill="#d2b078" d="M397.2,295.5 399.2,294.8 400.2,296.2 398.5,297.2Z"/>
<path class="c" fill="#d2b078" d="M403.2,293.8 405.5,292.8 407.2,294.2 406.5,296.5 404.5,297 403,295.8Z"/>
<path class="c" fill="#2a2418" d="M329.3,331 331.7,330 332.7,331.3 330.3,332.3Z"/>
<path class="c" fill="#d2dadd" d="M471.75,77.24 471.44,77.33 471.04,76.89 470.95,76.52 471.1,76.34 471.52,76.41 471.7,76.89Z"/>
<path class="c" fill="#d2dadd" d="M468.21,84.56 467.95,83.89 468.28,83.23 468.78,82.94 469.44,82.92 469.36,83.74 468.88,84.25Z"/>
<path class="c" fill="#d2dadd" d="M464.42,82.04 464.8,81.38 465.51,81.22 466.07,81.5 466.3,82.08 465.76,82.58 465.08,82.42Z"/>
<path class="c" fill="#d2dadd" d="M470.92,84.82 470.5,84.77 470.23,84.13 470.48,83.72 470.79,83.57 471.08,83.98 471.23,84.55Z"/>
<path class="c" fill="#d2dadd" d="M471.76,82.87 471.41,82.92 471.19,82.59 471.2,82.21 471.52,82.03 471.87,82.21 472.03,82.61Z"/>
<path class="c" fill="#d2dadd" d="M475.25,81.41 475.31,80.59 475.63,80.02 476.19,79.75 476.69,80.01 476.67,80.75 476.05,81.39Z"/>
<path class="c" fill="#d2dadd" d="M356.52,249.69 355.91,250.1 354.77,250.06 354.11,249.46 354.26,248.93 355.09,248.71 356.1,249.07Z"/>
<path class="c" fill="#d2dadd" d="M355.72,247.72 355,248.26 353.92,247.82 353.33,247.12 353.75,246.61 354.49,246.52 355.3,246.92Z"/>
<path class="c" fill="#d2dadd" d="M350.38,245.45 350.08,246.13 349.1,246.18 348.45,245.64 348.68,245.02 349.27,244.68 349.96,244.93Z"/>
<path class="c" fill="#d2dadd" d="M348.55,244.67 348.98,243.8 349.98,243.54 350.78,244.11 350.6,244.93 350.04,245.52 349.19,245.33Z"/>
<path class="c" fill="#d2dadd" d="M347.12,239.28 347.9,238.33 348.91,238.14 349.7,238.71 349.72,239.66 348.98,240.28 347.87,240.3Z"/>
<path class="c" fill="#d2dadd" d="M348.45,239.99 348.13,238.87 348.76,237.34 349.83,236.67 350.37,237.22 350.55,238.32 349.55,239.39Z"/>
<path class="c" fill="#d2dadd" d="M350.01,235.18 349.63,234.44 350.26,233.68 351.18,233.84 351.53,234.56 351.36,235.34 350.6,235.49Z"/>
<path class="c" fill="#d2dadd" d="M349.56,235.26 348.39,235.82 347.16,235.18 346.52,233.83 347.56,232.9 348.95,232.83 349.7,234.02Z"/>
<path class="c" fill="#d2dadd" d="M347.01,229 347.4,227.82 348.86,227.18 349.92,227.77 350.49,228.65 349.4,229.49 348.14,229.51Z"/>
<path class="c" fill="#d2dadd" d="M348.94,228.46 348.13,227.95 348.28,226.69 348.68,225.65 349.45,225.88 349.87,226.76 349.8,228.04Z"/>
<path class="c" fill="#d2dadd" d="M348.47,225.75 347.59,225.31 347.5,224.15 348.06,223.25 348.97,223.3 349.73,224.12 349.37,225.35Z"/>
<path class="c" fill="#d2dadd" d="M352.15,223.74 351.22,224.77 349.86,224.18 349.1,223.07 349.75,221.98 351.08,221.25 352.58,222.26Z"/>
<path class="c" fill="#d2dadd" d="M348.76,219.9 348.79,219.05 349.7,218.97 350.39,219.35 350.67,220.18 349.93,220.79 349.15,220.45Z"/>
<path class="c" fill="#d2dadd" d="M351.32,219.38 350.85,219.3 350.54,218.7 350.8,218.1 351.31,218.16 351.9,218.41 351.85,219.22Z"/>
<path class="c" fill="#d2dadd" d="M353.34,219.12 352.6,219.89 350.97,219.41 350.44,218.32 350.83,217.61 351.93,217.15 353.19,218.11Z"/>
<path class="c" fill="#d2dadd" d="M350.14,214.23 350.47,213.54 351.59,213.39 352.72,213.37 352.42,214.02 351.95,214.67 350.81,214.63Z"/>
<path class="c" fill="#d2dadd" d="M351.95,211.71 351.52,211.92 350.78,211.65 350.35,211.08 350.42,210.53 351.28,210.74 352.02,211.22Z"/>
<path class="c" fill="#d2dadd" d="M352.01,211.14 351.39,210.2 350.9,209.14 351.42,208.22 352.14,208.12 352.8,208.99 352.57,210.22Z"/>
<path class="c" fill="#d2dadd" d="M347.75,211.46 347.03,210.41 347.52,209.17 348.5,208.52 349.44,209 350.1,210.21 348.99,211.25Z"/>
<path class="c" fill="#d2dadd" d="M348.98,207.9 348.43,207.72 348.25,206.88 348.36,205.91 349.08,205.81 349.51,206.69 349.41,207.53Z"/>
<path class="c" fill="#d2dadd" d="M349.4,206.46 348.69,206.16 348.73,205.18 349.06,204.41 349.73,204.51 350.25,205.15 349.96,206.01Z"/>
<path class="c" fill="#d2dadd" d="M349.33,201.29 349.51,200.18 350.5,199.11 351.6,199.86 352.36,200.76 351.55,201.89 350.29,201.79Z"/>
<path class="c" fill="#d2dadd" d="M350.37,201.77 349.52,201.22 349.44,199.52 350.15,198.21 351.07,198.46 351.67,199.67 351.25,201.27Z"/>
<path class="c" fill="#d2dadd" d="M351.57,201.19 351.68,200.5 352.55,199.85 353.51,199.73 353.72,200.3 353.07,200.92 352.19,201.52Z"/>
<path class="c" fill="#d2dadd" d="M353.72,196.29 353.2,196.51 352.51,196.22 352.57,195.52 352.89,194.94 353.7,195.02 354.02,195.77Z"/>
<path class="c" fill="#d2dadd" d="M356.39,194.37 355.8,194.27 355.21,193.88 355.17,193.35 355.4,193.1 355.9,193.24 356.42,193.8Z"/>
<path class="c" fill="#d2dadd" d="M360.23,193.41 359.2,193.7 358.02,193.78 357.25,192.79 358.03,192.2 358.84,191.87 359.97,192.37Z"/>
<path class="c" fill="#d2dadd" d="M358.42,194.66 357.65,194.06 357.65,192.31 358.78,191.67 359.86,191.39 360.01,193.01 359.49,194.74Z"/>
<path class="c" fill="#d2dadd" d="M358.99,189.78 358.7,189.46 358.64,188.85 358.79,188.32 359.12,188.32 359.43,188.77 359.23,189.38Z"/>
<path class="c" fill="#d2dadd" d="M365.02,189.57 363.78,189.83 362.36,189.15 362.61,187.6 363.75,186.92 365.02,187.21 365.49,188.43Z"/>
<path class="c" fill="#d2dadd" d="M364,186.07 363.39,186.6 362.38,186.12 361.99,185.2 362.5,184.6 363.45,184.54 364.26,185.31Z"/>
<path class="c" fill="#d2dadd" d="M367.43,188.14 367.02,187.35 366.9,186.18 368,186.02 368.9,186.25 368.99,187.29 368.35,188.1Z"/>
<path class="c" fill="#d2dadd" d="M367.8,185.36 368.11,184.85 368.78,184.36 369.66,184.47 369.62,185.07 369.04,185.48 368.35,185.61Z"/>
<path class="c" fill="#d2dadd" d="M372.6,185.06 371.23,184.83 370.62,183.41 371.11,182.1 372.31,181.98 373.37,182.66 373.96,184.3Z"/>
<path class="c" fill="#d2dadd" d="M374.26,184.07 373.5,183.67 373.15,182.66 373.66,182.1 374.16,182.01 374.79,182.4 374.86,183.46Z"/>
<path class="c" fill="#d2dadd" d="M373.95,183.87 374.55,182.27 375.7,181.51 376.99,181.7 377.84,182.8 377.18,184.3 375.43,184.93Z"/>
<path class="c" fill="#d2dadd" d="M375.59,180.39 375.3,179.73 376.34,178.79 377.28,178.64 377.55,179.13 377.18,179.92 376.22,180.67Z"/>
<path class="c" fill="#d2dadd" d="M380.82,182.12 379.79,182.05 378.84,181.62 378.38,180.62 378.77,179.69 380.06,180.1 381.07,181.11Z"/>
<path class="c" fill="#d2dadd" d="M381.11,179.83 380.53,180.68 379.1,180.68 378.21,180.03 377.99,179.12 379.17,178.47 380.44,179.06Z"/>
<path class="c" fill="#d2dadd" d="M381.58,179.69 380.19,179.75 378.81,179.34 378.66,178.08 379.23,177.33 380.46,177.16 381.25,178.34Z"/>
<path class="c" fill="#d2dadd" d="M379.26,177.37 379.44,176.54 380.4,176.28 381.59,176.42 381.31,177.42 380.66,177.97 379.79,177.95Z"/>
<path class="c" fill="#d2dadd" d="M378.58,172 379.21,171.44 379.98,170.97 380.77,171.27 380.88,171.82 380.21,172.3 379.34,172.31Z"/>
<path class="c" fill="#d2dadd" d="M381.59,171.52 380.94,171.32 380.9,170.12 381.12,169.26 381.72,168.92 381.98,170.05 382.06,171.04Z"/>
<path class="c" fill="#d2dadd" d="M384.69,172.4 383.92,172.69 383.37,172.09 383.32,171.43 383.7,170.74 384.5,170.98 384.77,171.66Z"/>
<path class="c" fill="#d2dadd" d="M384.04,170.34 383.64,168.85 383.74,167.66 384.84,166.88 386.36,167.2 386.76,168.87 385.53,169.89Z"/>
<path class="c" fill="#d2dadd" d="M386.67,167.1 386.55,165.78 387.35,164.74 388.62,164.61 389.72,165.43 388.96,166.67 387.96,167.31Z"/>
<path class="c" fill="#d2dadd" d="M386.27,167.1 386.8,166.16 388.18,166.15 388.96,166.6 389.01,167.26 388.32,167.89 387.02,167.86Z"/>
<path class="c" fill="#d2dadd" d="M390.05,162.33 388.68,162.91 387.22,162.8 386.53,161.57 386.76,160.26 388.29,160.3 389.43,160.99Z"/>
<path class="c" fill="#d2dadd" d="M390.91,163.71 389.4,164.01 387.69,163.19 387.84,161.67 388.38,160.62 389.97,160.68 391.18,162.18Z"/>
<path class="c" fill="#d2dadd" d="M389.81,162.16 389.26,161.38 389.1,160.45 389.94,160.04 390.69,160.32 391.23,161.03 390.82,161.97Z"/>
<path class="c" fill="#d2dadd" d="M390.7,159.93 390.45,159.28 390.63,158.58 391.05,158.01 391.62,158.04 391.6,158.87 391.29,159.58Z"/>
<path class="c" fill="#d2dadd" d="M393.68,158.77 393.17,159.65 391.93,159.39 391.29,158.54 391.53,157.65 392.55,157 393.54,157.86Z"/>
<path class="c" fill="#d2dadd" d="M393.93,155.67 392.52,155.76 391.33,155.04 390.09,153.77 391.13,152.99 392.64,152.93 393.7,154.29Z"/>
<path class="c" fill="#d2dadd" d="M391.7,155.04 391.63,154.06 392.79,153.61 393.9,153.87 393.96,154.83 393.37,155.63 392.2,155.86Z"/>
<path class="c" fill="#d2dadd" d="M396.16,151.04 394.95,151.72 393.22,151.01 392.62,149.98 392.37,148.8 394.08,149.02 395.75,149.72Z"/>
<path class="c" fill="#d2dadd" d="M394.97,149.69 395.32,148.96 395.92,148.49 396.68,148.45 397.02,148.98 396.54,149.63 395.78,149.8Z"/>
<path class="c" fill="#d2dadd" d="M394.89,149.57 394.36,150.01 393.62,149.92 393.35,149.29 393.53,148.7 394.18,148.47 394.75,148.9Z"/>
<path class="c" fill="#d2dadd" d="M395.67,149.87 394.54,150.17 393.46,149.3 393.29,148.26 393.75,147.47 394.82,147.89 395.48,148.72Z"/>
<path class="c" fill="#d2dadd" d="M395.34,145.76 395.38,145.11 395.69,144.5 396.39,144.48 397.01,144.89 396.54,145.56 395.98,146.13Z"/>
<path class="c" fill="#d2dadd" d="M392.23,142.62 393.37,141.51 394.77,140.67 396.46,141.29 395.95,142.62 395.08,143.55 393.34,143.74Z"/>
<path class="c" fill="#d2dadd" d="M398.98,143 397.85,142.96 396.87,141.98 396.45,140.87 397.07,140.32 398.35,140.38 399.27,141.91Z"/>
<path class="c" fill="#d2dadd" d="M396.68,141.09 395.53,140.8 394.79,139.8 394.82,138.51 395.91,138.49 397.06,138.67 397.23,140.03Z"/>
<path class="c" fill="#d2dadd" d="M400.44,134.33 399.77,134.83 398.96,135.01 398.18,134.45 398.47,133.64 399.23,133.23 399.97,133.64Z"/>
<path class="c" fill="#d2dadd" d="M402.47,134.85 401.24,134.62 400.24,133.95 399.55,132.88 400.21,132.41 401.32,132.6 402.2,133.68Z"/>
<path class="c" fill="#d2dadd" d="M401.13,132.86 401.5,132.28 402.4,131.99 403.47,132.03 403.74,132.73 402.77,133.38 401.61,133.34Z"/>
<path class="c" fill="#d2dadd" d="M401.79,131.37 401.05,130.45 401.99,129.7 402.94,129.26 403.7,130.03 403.53,131.05 402.71,131.52Z"/>
<path class="c" fill="#d2dadd" d="M401.79,130.1 401.45,129.64 401.59,128.77 402.15,128.45 402.58,128.55 402.64,129.19 402.28,129.76Z"/>
<path class="c" fill="#d2dadd" d="M401.96,129.84 400.69,129.09 400.4,127.69 401.06,126.65 402.17,126.44 402.88,127.45 402.96,128.78Z"/>
<path class="c" fill="#d2dadd" d="M402.17,125.5 401.41,125.1 401.16,124.22 401.33,123.34 402.13,123.03 402.59,123.94 402.85,124.92Z"/>
<path class="c" fill="#d2dadd" d="M402.51,122.77 401.55,123.15 400.87,122.23 400.95,121.17 401.84,120.66 402.94,120.95 403.07,122.07Z"/>
<path class="c" fill="#d2dadd" d="M403.92,121.18 402.85,121.5 402.12,120.35 401.58,118.96 402.8,118.75 403.76,119.23 404.26,120.24Z"/>
<path class="c" fill="#d2dadd" d="M405.24,121.77 404.82,121.21 405.17,120.58 405.64,120.1 406.15,120.42 406.41,121.07 405.94,121.74Z"/>
<path class="c" fill="#d2dadd" d="M406.29,116.73 405.41,116.86 403.96,116.45 403.2,115.04 403.91,114.33 405.38,114.57 406.58,115.86Z"/>
<path class="c" fill="#d2dadd" d="M408.16,118.66 407.56,118.85 406.75,118.05 406.45,117.25 406.65,116.59 407.63,117.19 408.43,118.09Z"/>
<path class="c" fill="#d2dadd" d="M404.93,118.86 404.8,117.75 405.19,116.36 406.38,116.26 407.46,116.43 406.9,117.79 406.02,118.54Z"/>
<path class="c" fill="#d2dadd" d="M403.86,117.29 402.94,116.94 402.95,115.37 403.27,113.85 404.2,114.3 404.69,115.35 404.72,116.85Z"/>
<path class="c" fill="#d2dadd" d="M403.41,117.39 403.39,116.06 404.27,115 405.6,114.9 406.7,115.73 405.77,116.98 404.67,118.1Z"/>
<path class="c" fill="#d2dadd" d="M403.15,111.84 402.11,111.38 401.66,109.71 402.2,108.34 403.19,108.45 403.88,109.52 403.77,110.86Z"/>
<path class="c" fill="#d2dadd" d="M403.46,109.92 402.68,109.44 402.53,108.23 403.56,107.79 404.39,108.02 404.78,108.88 404.46,109.98Z"/>
<path class="c" fill="#d2dadd" d="M408.88,110 408.2,110.3 407.16,110.25 406.73,109.3 407.35,108.8 408.18,108.42 408.74,109.28Z"/>
<path class="c" fill="#d2dadd" d="M409.06,109.5 408.19,109.49 407.17,109.06 406.41,108.02 406.95,107.41 408.13,107.77 409.13,108.68Z"/>
<path class="c" fill="#d2dadd" d="M409.91,108.25 408.45,108 408.02,106.56 408.67,105.45 409.91,104.82 411.2,105.77 411.14,107.41Z"/>
<path class="c" fill="#d2dadd" d="M411.04,105.73 410.56,105.22 410.72,104.07 411.59,103.39 412.32,103.75 412.25,104.8 411.75,105.73Z"/>
<path class="c" fill="#d2dadd" d="M411.46,105.7 411.21,104.43 411.69,102.97 412.89,101.74 413.4,102.84 413.62,103.97 412.63,105.04Z"/>
<path class="c" fill="#d2dadd" d="M411.92,102.85 411.51,101.87 412.1,100.63 413.3,100.38 413.99,101.03 414.11,102.24 412.94,102.8Z"/>
<path class="c" fill="#d2dadd" d="M416.59,99.87 415.84,100.72 414.38,100.47 413.14,99.8 413.33,98.72 414.67,98.11 416.16,98.82Z"/>
<path class="c" fill="#d2dadd" d="M417.84,100.53 417.02,101.23 415.55,100.43 415.08,99.07 415.83,98.31 417.15,98.46 417.96,99.59Z"/>
<path class="c" fill="#d2dadd" d="M420.08,98.13 418.89,97.92 417.59,97.22 417.72,95.86 418.43,94.88 419.68,95.77 420.37,96.96Z"/>
<path class="c" fill="#d2dadd" d="M419.14,97.24 418.54,96.95 418.33,96 418.73,95.33 419.36,95.04 419.84,95.88 419.53,96.71Z"/>
<path class="c" fill="#d2dadd" d="M421.02,95.29 420.92,96.64 419.18,96.7 418.25,95.71 418.4,94.66 419.4,94.04 420.67,94.29Z"/>
<path class="c" fill="#d2dadd" d="M421.57,94.92 421.83,93.9 423.29,93.2 424.8,93.23 425.06,94.2 424.05,95.23 422.62,95.26Z"/>
<path class="c" fill="#d2dadd" d="M424.03,92.73 422.92,92.87 421.68,92.18 421.72,90.92 422.32,89.96 423.58,90.53 424.53,91.65Z"/>
<path class="c" fill="#d2dadd" d="M422.91,92.62 421.88,91.78 422.18,90.17 423.05,89.16 424.32,89 424.33,90.65 424.11,92.12Z"/>
<path class="c" fill="#d2dadd" d="M426.79,95.79 427.46,94.78 429.08,94.22 429.96,95.18 430.55,96.17 429.18,96.94 427.64,96.64Z"/>
<path class="c" fill="#d2dadd" d="M427.87,91.31 426.97,90.94 426.34,89.53 426.88,88.46 427.69,87.91 428.4,89.18 428.54,90.59Z"/>
<path class="c" fill="#d2dadd" d="M426.95,89.72 426.42,89.14 426.78,88.19 427.24,87.34 427.97,87.46 428.06,88.49 427.57,89.21Z"/>
<path class="c" fill="#d2dadd" d="M428.71,89.88 427.68,88.79 427.84,87.21 429.18,86.44 430.62,86.9 430.73,88.36 430.22,89.74Z"/>
<path class="c" fill="#d2dadd" d="M430.49,89.08 430.73,88.46 431.32,88 432.05,88.28 432.16,88.96 431.67,89.41 431.03,89.47Z"/>
<path class="c" fill="#d2dadd" d="M431.93,86.07 431.04,86.38 429.72,86.15 429.1,85.31 429.55,84.87 430.36,84.72 431.49,85.25Z"/>
<path class="c" fill="#d2dadd" d="M438.36,83.22 438.24,83.72 437.35,83.65 436.43,83.44 436.83,82.94 437.33,82.5 438.12,82.83Z"/>
<path class="c" fill="#d2dadd" d="M436.01,83.57 436.52,82.3 437.38,81.24 438.88,81.4 439.29,82.65 438.83,84.07 437.28,84.06Z"/>
<path class="c" fill="#d2dadd" d="M440.9,82.96 440.27,84.05 438.97,83.66 437.79,82.89 438.35,81.68 439.54,81.49 440.67,81.84Z"/>
<path class="c" fill="#d2dadd" d="M439.34,80.6 438.9,79.51 439.33,78.18 440.39,77.15 441.5,77.57 441.48,79.15 440.5,80.38Z"/>
<path class="c" fill="#d2dadd" d="M440.16,77.95 440.25,76.69 441.08,75.8 442.49,75.71 442.9,77.04 442.6,78.33 441.28,78.69Z"/>
<path class="c" fill="#d2dadd" d="M443.44,79.17 442.87,78.55 443.25,77.63 443.7,76.78 444.44,76.99 444.7,77.93 444.18,78.81Z"/>
<path class="c" fill="#d2dadd" d="M447.18,73.81 446.94,73.25 447.5,72.58 448.19,72.74 448.64,73.12 448.38,73.81 447.66,74.1Z"/>
<path class="c" fill="#d2dadd" d="M450.4,76.13 449.08,76.84 447.57,75.94 447.46,74.39 448.37,73.42 449.81,73.52 450.44,74.79Z"/>
<path class="c" fill="#d2dadd" d="M452.3,74.62 451.34,75.08 450.28,74.98 449.25,74.56 449.27,73.8 450.45,73.7 451.6,73.87Z"/>
<path class="c" fill="#d2dadd" d="M454.04,72.71 452.97,72.73 451.84,72.17 451.69,70.94 452.44,70.21 453.67,70.47 454.05,71.64Z"/>
<path class="c" fill="#d2dadd" d="M454.33,74.99 455.42,73.98 456.63,73.25 457.87,73.85 457.83,74.88 457.17,76.08 455.6,75.7Z"/>
<path class="c" fill="#d2dadd" d="M459.27,72.04 458.37,72.52 457.37,71.86 457.03,71.16 457.25,70.53 458.12,70.47 459.15,71.02Z"/>
<path class="c" fill="#d2dadd" d="M460.93,74.75 461.33,73.86 462.54,73.23 463.92,73.92 463.81,75.24 462.59,75.85 461.21,75.82Z"/>
<path class="c" fill="#d2dadd" d="M463.9,74.07 463.38,74.29 462.64,74.17 462.52,73.53 462.57,72.91 463.33,73.08 463.8,73.53Z"/>
<path class="c" fill="#d2dadd" d="M468.95,74.09 467.97,74.13 467.47,72.36 467.94,70.99 468.87,70.97 469.56,72.1 469.84,73.76Z"/>
<path class="c" fill="#d2dadd" d="M468.17,76.31 467.53,76.11 467.7,75.34 468.11,74.84 468.66,75.02 468.94,75.55 468.83,76.32Z"/>
<path class="c" fill="#930e10" d="M265.46,260.13 265.7,259.82 266.32,259.78 266.63,260.01 266.71,260.26 266.32,260.46 265.84,260.35Z"/>
<path class="c" fill="#930e10" d="M270.04,257.21 269.6,257.02 269.4,256.59 269.68,256.23 270.08,256.2 270.55,256.39 270.37,256.89Z"/>
<path class="c" fill="#930e10" d="M267.2,258.36 266.8,257.64 266.71,256.86 267.31,256.17 268,256.61 268.54,257.29 268.08,258.2Z"/>
<path class="c" fill="#930e10" d="M266.33,256.2 266.35,255.83 266.58,255.47 266.92,255.29 267.14,255.42 266.96,255.8 266.69,256.12Z"/>
<path class="c" fill="#930e10" d="M268.54,253.99 267.94,253.91 267.64,253.46 267.73,252.97 268.15,252.49 268.79,252.8 268.84,253.46Z"/>
<path class="c" fill="#930e10" d="M266.28,250.52 266.43,249.8 267.15,249.67 267.68,250.04 267.71,250.64 267.37,251.27 266.73,250.97Z"/>
<path class="c" fill="#930e10" d="M267.6,248.48 267.28,248.33 267.05,247.9 267.07,247.31 267.5,247.17 267.87,247.66 267.88,248.25Z"/>
<path class="c" fill="#930e10" d="M270.61,242.24 270.02,241.97 270.21,241.05 270.5,240.22 271.2,240.17 271.26,241.16 271.21,242.04Z"/>
<path class="c" fill="#930e10" d="M275.17,237.01 274.72,237.27 273.91,237.24 273.46,236.72 273.3,236.1 274.26,236.04 274.98,236.52Z"/>
<path class="c" fill="#930e10" d="M274.88,236.17 274.52,236.02 274.34,235.56 274.26,235.07 274.57,234.9 274.94,235.27 275.09,235.83Z"/>
<path class="c" fill="#ca8a54" d="M473.17,213.57 472.81,213.65 472.54,213.12 472.51,212.71 472.72,212.47 473.13,212.75 473.42,213.29Z"/>
<path class="c" fill="#ca8a54" d="M471.05,215 471.07,214.36 471.63,213.74 472.3,213.26 472.64,213.61 472.25,214.31 471.69,214.92Z"/>
<path class="c" fill="#ca8a54" d="M469.66,215.37 470.06,214.57 470.86,214.51 471.39,214.92 471.6,215.62 471,216.13 470.2,216.06Z"/>
<path class="c" fill="#ca8a54" d="M470.13,216.87 469.97,216.3 470.03,215.81 470.5,215.48 470.95,215.81 471.13,216.34 470.72,216.76Z"/>
<path class="c" fill="#ca8a54" d="M468.71,216.85 468.04,216.67 467.99,215.94 468.3,215.39 468.94,215.26 469.41,215.8 469.14,216.41Z"/>
<path class="c" fill="#ca8a54" d="M466.73,218.82 466.95,218.52 467.32,218.36 467.66,218.59 467.65,218.96 467.34,219.16 466.96,219.12Z"/>
<path class="c" fill="#ca8a54" d="M466.43,218.91 466.07,219.01 465.71,218.75 465.74,218.31 466.05,218 466.45,218.22 466.65,218.6Z"/>
<path class="c" fill="#ca8a54" d="M460.2,220.05 460.18,219.75 460.52,219.44 460.87,219.36 460.94,219.57 460.89,219.88 460.53,220.01Z"/>
<path class="c" fill="#ca8a54" d="M460.48,219.46 460.02,219.28 459.99,218.67 460.37,218.21 460.8,218.48 461.13,218.82 461,219.43Z"/>
<path class="c" fill="#ca8a54" d="M457.83,217.64 457.52,217.8 457.08,217.47 456.79,217.04 457.12,216.91 457.49,216.97 457.89,217.3Z"/>
<path class="c" fill="#ca8a54" d="M456.57,218.53 456.36,218.4 456.34,218.01 456.44,217.74 456.62,217.65 456.81,217.94 456.74,218.35Z"/>
<path class="c" fill="#ca8a54" d="M454.83,216.27 454.9,215.89 455.24,215.68 455.65,215.63 455.74,215.97 455.58,216.31 455.17,216.47Z"/>
<path class="c" fill="#ca8a54" d="M452.9,215.52 452.82,215.15 452.96,214.73 453.35,214.42 453.58,214.72 453.64,215.13 453.27,215.4Z"/>
<path class="c" fill="#ca8a54" d="M452.47,213.83 452.02,214 451.49,213.38 451.32,212.91 451.49,212.61 452,212.88 452.46,213.35Z"/>
<path class="c" fill="#ca8a54" d="M452.73,214.34 452.19,214.11 451.95,213.31 452.32,212.62 452.92,212.62 453.23,213.28 453.12,213.92Z"/>
<path class="c" fill="#ca8a54" d="M448.72,212.65 448.87,212.22 449.43,212.19 449.95,212.22 449.95,212.63 449.58,212.92 449.01,213Z"/>
<path class="c" fill="#42ad75" d="M430.4,214.59 430.38,214.23 430.73,214.09 430.99,214.13 431.11,214.34 431.09,214.68 430.72,214.66Z"/>
<path class="c" fill="#42ad75" d="M432.8,216.75 432.34,217.04 431.84,216.84 431.65,216.37 431.87,215.9 432.4,215.87 432.7,216.25Z"/>
<path class="c" fill="#42ad75" d="M437.84,221.69 437.63,222.12 437.11,221.92 436.77,221.61 436.87,221.17 437.35,221.07 437.74,221.31Z"/>
<path class="c" fill="#42ad75" d="M437.83,227.42 437.62,227.16 437.92,226.76 438.31,226.6 438.6,226.78 438.48,227.22 438.12,227.44Z"/>
<path class="c" fill="#42ad75" d="M435.83,235.51 435.52,235.51 435.23,235.09 435.03,234.59 435.3,234.33 435.71,234.77 436.04,235.26Z"/>
<path class="c" fill="#42ad75" d="M433.43,236.32 433.72,236.02 434.34,235.71 435,235.94 435.03,236.36 434.44,236.71 433.69,236.63Z"/>
<path class="c" fill="#d2dadd" d="M590.31,501.25 589.96,501.47 589.5,501.42 589.44,501.04 589.5,500.76 589.84,500.63 590.2,500.86Z"/>
<path class="c" fill="#d2dadd" d="M586.49,502.79 586.17,502.51 586.06,502.09 586.25,501.64 586.72,501.56 586.97,502.05 586.95,502.62Z"/>
<path class="c" fill="#d2dadd" d="M580.8,504.42 580.94,504.1 581.16,503.83 581.46,504 581.71,504.26 581.47,504.58 581.09,504.66Z"/>
<path class="c" fill="#d2dadd" d="M575.4,504.84 575.36,504.46 575.59,504.08 576.03,503.84 576.18,504.19 576.1,504.55 575.79,504.9Z"/>
<path class="c" fill="#d2dadd" d="M571.74,500.43 571.44,500.58 571,500.52 570.9,500.15 570.9,499.73 571.4,499.77 571.8,500.05Z"/>
<path class="c" fill="#d2dadd" d="M562.39,500.32 562,499.98 562.2,499.28 562.75,499.15 563.22,499.24 563.29,499.85 562.86,500.32Z"/>
<path class="c" fill="#d2dadd" d="M555.8,497.29 555.75,496.7 556.31,496.4 556.98,496.4 557.22,497.02 556.79,497.5 556.2,497.7Z"/>
<path class="c" fill="#d2dadd" d="M554.36,496.01 554.6,495.76 554.89,495.54 555.24,495.69 555.3,495.99 554.97,496.15 554.61,496.25Z"/>
<path class="c" fill="#d2dadd" d="M553.7,492.07 553.3,491.97 553.24,491.5 553.57,491.26 553.99,491.11 554.15,491.55 554.01,491.9Z"/>
<path class="c" fill="#d2dadd" d="M544.79,476.79 544.44,476.11 545.12,475.56 545.8,475.33 546.26,475.8 546.27,476.63 545.45,476.89Z"/>
<path class="c" fill="#d2dadd" d="M542.64,474.31 542.9,473.72 543.69,473.39 544.47,473.45 544.64,473.96 544.07,474.51 543.3,474.48Z"/>
<path class="c" fill="#ffffff" d="M215.1,104 216.6,103.3 217.4,105.7 216.9,108.7 215.9,108.3 215.3,105.9Z"/>
<path class="c" fill="#ffffff" d="M206.1,109.3 209.7,108 212.1,108.7 210.8,110 207.8,110.4Z"/>
<path class="c" fill="#ffffff" d="M218.3,111 219.4,110 220,112.1 219.2,113.8 218.5,113Z"/>
<path class="l" d="M280.5,402.5 281.7,406.7 283.3,412"/>
<path class="l" d="M367.5,266.5 370,265.5 372.5,266.5 374,264.5M370,265.5 370.5,268.5"/>
<path class="l" d="M562.5,442 563,444.7 563.3,447.5"/>
<path class="l" d="M545,456.2 542.5,457.7 540,460.3"/>
<path class="l" d="M461.7,413 462.7,417 464,421 466,423.7 464.9,426.3 467.3,428.3 466.7,431 464,432.3 462,433.7"/>
<path class="l" d="M462,433.7 460.7,436.3 460,439.7 459.3,443 460,445.7"/>
<path class="l" d="M462,433.7 465.3,433 468.7,434.3 472,436.3 474.7,438.3 476,440.3 475.3,441.7"/>
<path class="l" d="M475.3,441.7 476.7,438.3 478.7,435.7 480.7,433.7 484.7,435 488.7,437.7 490.7,441 488.7,443.7 486,445.7 482.7,447.7 480,446.3 477.3,444.3 475.3,441.7"/>
<path class="l" d="M475.3,441.7 472.7,443.7 470.7,445.7 469.3,448.3 468.7,451 468.4,452.3"/>
<path class="l" d="M480,446.3 481.3,449.7 480.7,453.7 482,457.7 483.3,461 486,463"/>
<path class="l" d="M486,445.7 488.7,443.7 492.7,443 496,442.3 498.7,442.3"/>
<path class="l" d="M498.7,442.3 499.3,441.4"/>
<path class="l" d="M498.7,442.3 501.3,445 503.1,448.3 503.3,451.7 502.7,453.7"/>
<path class="l" d="M249.7,533.3 251.3,536.7 253.3,541.5"/>
<path class="l" d="M363.3,521.3 360.8,525.5 362,529.7 361.3,534.7 361.7,541.5"/>
<path class="l" d="M207.8,107.3 211,106.2 210,108.4 213.2,106.8M214.8,104.6 215.8,107.8 216.9,105.2 218,108.9M211,116.4 214.2,119 216.9,118M235.1,119 235.4,121.7M208.9,126.5 211.6,126"/>
<path class="l" d="M507.5,257.5 510.8,258 515,257.5 518.3,260 521.7,257.5 525.8,257.5 529.2,260.8 530,265.8 533.3,270 536.7,274.2 540.8,276.7 543.3,279.2 548.3,280 550.3,282.5 548.3,285.8 544.2,287.5 541.3,289.2 542.5,293.3 545,297.5 547.5,300"/>
<path class="l" d="M547.5,300 544.2,301.3 541.7,304.2 540.8,308.3 540.8,312.5 537.5,311.7 533.3,313.3 529.2,312.5 524.2,314.2 519.2,316.7 514.2,315 508.3,315.3 501.7,315.8 496.7,316.7 491.7,318.3 489.2,321.7 486.7,322.5"/>
<path class="l" d="M547.5,300 551.7,297.5 555.8,294.2 561.7,292.5 565.8,295.8 569.2,299.2 570,304.2 574.2,303.3 578.3,304.2 581.7,307.5 584.2,310.8 588.3,309.7 593.3,308.3 598.3,305.8 603.3,308.3 610,307 610,307 615,307.5 619.2,306.7 622.5,307.5 625,310.8 624.2,315.8 626.7,320 628.7,324.2 628,328.3 623.3,330 620,333.3 618.7,338.3 620,340.8"/>
<path class="l" d="M778.3,106.7 771.7,103.3 765,101.7 760,105 755,110 753.3,118.3 750,126.7 748.3,136.7 743.3,146.7 738.3,155 733.3,163.3 726.7,165 733.3,170 740,171.7 738.3,176.7 735.8,175 736.7,180 740.8,182.5 740,187.5 739.2,191.7 743.3,192.5 748.3,190.8 753.3,190.3 756.3,194.2 756.7,198.3 753.3,201.7 749.2,203.3 750,207.5 746.7,210 741.7,210.8 736.7,210 732.5,213.3 728.3,216.7 725,220 724.2,225 720,228.3 714.2,229.2 713.3,231.7 708.3,231.7 703.3,230 699.2,233.3 694.2,232.5 691.7,236.7 687.5,239.2 684.2,240 683.3,245 680.8,250 680,255 678.3,259.2 676.7,261.7 680.8,265 680.8,262.5 683.3,265.8 681.7,269.2 678.3,270.8 675,269.2 671.7,267.5 670,270 670.8,275 672.5,280 675,285 675.8,290.8 677.5,294.2 680.8,295.8 684.2,299.2 687.5,297.5 691.7,295.8 695.8,297.5 700,300 704.2,302.5 705.8,305 702.5,306.7 705.8,307.5 708.3,306.2"/>
<path class="l" d="M521.3,358.7 525.8,355.8 531.7,355 538.3,356.7 543.3,360 548.3,365 552.5,370 554.2,374.3 550.3,375.7 547,378.3 546,383.3 547.5,388.3 545,392"/>
<path class="l" d="M554.2,374.3 557.5,376.7 559.7,379.2"/>
<path class="l" d="M565.8,360.8 567.5,365 566.3,368.7 570.8,367.5 575.3,366.3M567.5,365 570.8,363.3"/>
<path class="l" d="M651.7,380 656.7,378.3 663.3,376.7 670,375 676.7,373.3 683.3,372.5 688.3,374.7 691.7,371.7 696.7,369.2 703.3,368 705.8,370.8 710.8,371.7 714.2,372.5"/>
<path class="l" d="M714.2,372.5 718.3,371.3 723.3,372 726.3,373.7 729.7,371.7 731.7,366.7 732.5,361.7"/>
<path class="l" d="M714.2,372.5 716.7,375.8 720,378 719.2,380.8 715,380 710.8,381.3 707.5,383.7 705.8,385.8"/>
<path class="l" d="M675,397.5 680,394.2 684.2,392 688.3,393.3 693.7,393.7"/>
<path class="l" d="M693.7,393.7 698.3,390 703.3,386.7 705.8,385.8"/>
<path class="l" d="M705.8,385.8 709.2,387.5 712.5,389.2 715.8,393.3 719.2,395.8 723.3,398.3 727.5,398.7 730.8,400.8 731.7,404.2 730,405.8 727.5,408.3"/>
<path class="l" d="M693.7,393.7 695.8,396.7 698.3,400.8 700.8,404.2 705,404.2 709.2,405"/>
<path class="l" d="M709.2,405 713.3,403.3 718.3,404.2 721.7,401.7 724.2,404.2 728.3,405.8 727.5,408.3 723.3,409.7 718.3,408.7 714.2,406.7 710.8,405.3 709.2,405"/>
<path class="l" d="M731.7,404.2 733.3,400 735.8,395.8 738.3,391.7 740.8,389.2 743.3,390.8 745.8,393.3 745,397.5 748.3,399.2 752.5,399.7 754.2,399.2"/>
<path class="l" d="M709.2,405 707.5,410 707.5,410 710,414.2 712.5,418.3 715.8,422.5 716.7,426.7 720,430 723.3,433.3 724.2,434.2"/>
<path class="l" d="M724.2,434.2 721.7,437.5 718.3,435.8 715,438.3 710,440 705.8,441.7 703.3,444.2"/>
<path class="l" d="M703.3,444.2 700,447.5 695,450 690,452.5 685.8,455.8 681.7,460 676.7,464.2 671.7,465.8 666.7,465.8 661.7,468.3 656.7,471.7 652.5,473.3 650,476.3 650.8,480.5 650,485.5 647.5,487.2"/>
<path class="l" d="M703.3,444.2 701.7,449.2 698.3,455 697,460 699.2,465 701.7,470 703.3,475.8 703.7,481.7 701.7,486.7 698.3,488.8 693.3,496.3 688.3,503 685.3,506.7"/>
<path class="l" d="M724.2,434.2 727.5,437.5 730.8,440 734.2,442.5 737.5,445 741.7,443.7 745.8,442.5 745,446.7 748.3,450 746.7,455 747.5,460 746.7,465 749.2,468.3 753.3,470.8 758.3,474.2 763.3,475.8 770,476.7 775,477.5 778.5,478.3"/>
<path class="l" d="M685.3,506.7 688.3,510.5 691.7,515.5 695,517.2"/>
<path class="l" d="M695,517.2 703.3,516 711.7,516.3 720,517.7 778.7,518"/>
<path class="l" d="M685.3,506.7 680,513 673.3,521.3 669.2,525.5 663.3,526.3 658.3,526 655.8,524.7"/>
<path class="l" d="M695,517.2 690,523 683.3,528.8 676.7,534.3 675,535.5 680,538.8 685,541.3 686.7,541.5"/>
<path class="l" d="M651.3,501.8 655,500.2 658,501.7 660,505 658.3,509.7 656.3,513.3 655.3,517.7 653,519.3 650.3,518.8"/>
<path class="l" d="M655.3,517.7 655.8,524.7 655.3,529.7 656.3,536.3 657.5,541.5"/>
<path class="l" d="M764.7,340.3 765.8,334.2 769.2,330 774.2,326.7 779.2,325.3"/>
<path class="l" d="M778.5,270.8 767.5,286.7 778.5,302.5"/>
<path class="l" d="M464.48,83.78 462.73,85.13"/>
<path class="l" d="M473.25,83.87 474.85,84.41"/>
<path class="l" d="M476.69,82.09 479.45,84.13"/>
<path class="l" d="M479.22,82.62 478.79,85.84"/>
<path class="l" d="M356.33,247.1 357.86,246.76"/>
<path class="l" d="M355.11,245.78 356.33,242.42"/>
<path class="l" d="M353,242.62 354.15,241.55"/>
<path class="l" d="M352.07,236.95 354.01,238.53"/>
<path class="l" d="M352.24,233.91 356.03,234.95"/>
<path class="l" d="M353.05,220.66 355.83,220.39"/>
<path class="l" d="M352.66,214.13 355.38,215.1"/>
<path class="l" d="M352.58,211.53 354.6,210.29"/>
<path class="l" d="M352.73,208.41 354.4,208.78"/>
<path class="l" d="M351.92,205.17 354.18,205.23"/>
<path class="l" d="M354.56,198.39 355.48,200.93"/>
<path class="l" d="M363.9,190.05 364.03,191.8"/>
<path class="l" d="M369.14,187.73 371.65,189.61"/>
<path class="l" d="M370.79,186.48 373,187.29"/>
<path class="l" d="M372.66,185.17 373.2,187.88"/>
<path class="l" d="M381.04,181.19 383.37,181.45"/>
<path class="l" d="M382.01,176.9 384.73,179.47"/>
<path class="l" d="M382.79,175.42 384.76,176.4"/>
<path class="l" d="M383.52,174.51 387.29,175.54"/>
<path class="l" d="M387.05,169.06 388.85,170.9"/>
<path class="l" d="M389.46,166.5 391.42,167.22"/>
<path class="l" d="M390.91,163.63 391.92,165.22"/>
<path class="l" d="M392.29,161.21 394.58,163.14"/>
<path class="l" d="M393.42,159.3 396.3,161.26"/>
<path class="l" d="M396.98,150.47 398.55,153.39"/>
<path class="l" d="M396.56,146.98 398.2,146.4"/>
<path class="l" d="M398.17,143.88 401.77,144.9"/>
<path class="l" d="M399.85,140.15 403.34,140.33"/>
<path class="l" d="M402.38,136.3 403.94,136.55"/>
<path class="l" d="M403.7,133.53 404.97,134.38"/>
<path class="l" d="M405.8,125.5 407.91,125.08"/>
<path class="l" d="M408.36,118.45 410.09,118.23"/>
<path class="l" d="M407.6,115.69 410.99,115.36"/>
<path class="l" d="M404.78,112.87 404.69,110.86"/>
<path class="l" d="M409.07,110.62 408.99,114.58"/>
<path class="l" d="M417.48,102.38 417.81,104.42"/>
<path class="l" d="M420.81,99.54 423.23,100.38"/>
<path class="l" d="M428.7,92.11 428.16,94.83"/>
<path class="l" d="M429.38,91.77 430.57,92.7"/>
<path class="l" d="M432.78,89.22 434.54,90.69"/>
<path class="l" d="M437.92,84.46 440.49,86.52"/>
<path class="l" d="M442.93,81.1 442.95,82.75"/>
<path class="l" d="M445.98,78.54 447.19,81.96"/>
<path class="l" d="M448.51,77.6 447.95,79.66"/>
<path class="l" d="M450.28,77.45 449.9,79.36"/>
<path class="l" d="M452.05,77.02 454.53,78.31"/>
<path class="l" d="M454.06,76.12 455.59,77.42"/>
<path class="l" d="M468.39,77.18 467.71,78.98"/>
<path class="l" d="M270.54,256.14 271.7,255.11"/>
<path class="l" d="M270.23,250.27 272.44,250.22"/>
<path class="l" d="M270.48,247.88 272.74,248.79"/>
<path class="l" d="M271.13,246.14 272.01,247.12"/>
<path class="l" d="M276.76,235.83 278.44,235.55"/>
<path class="l" d="M379.5,285.5 378.5,287 377.8,289M398.5,279.5 399.5,281 398.8,282.8"/>
<path class="l" d="M471.81,212.61 471.08,211.87"/>
<path class="l" d="M470.14,213.63 470.19,212.44"/>
<path class="l" d="M468.43,214.66 468.59,213.57"/>
<path class="l" d="M467.64,215.13 467.39,214.02"/>
<path class="l" d="M460.93,217.18 461.89,216.45"/>
<path class="l" d="M452.69,211.84 452.97,210"/>
<path class="l" d="M430.1,216.78 430.08,217.82"/>
<path class="l" d="M431.93,218.16 431.21,219.46"/>
<path class="l" d="M435.45,222.04 432.76,223.13"/>
<path class="l" d="M436.6,225.94 435.6,225.96"/>
<path class="l" d="M432.1,234.6 431.86,232.98"/>
<path class="l" d="M430.5,235.6 429.54,233.98"/>
<path class="l" d="M429.5,236.1 427.57,234.27"/>
<path class="l" d="M350.3,210 355,210.7 360,209.7 364.2,207M360,209.7 361.7,212.5M351.3,222 356.7,221 360.8,217.7M352.5,233.7 356.7,232 358.7,229.2M382,173 386.7,171.3 390,168 392.5,168.3M383,228.3 383.3,224.7 382,221.7"/>
<path class="l" d="M587.1,367.5 590,366.2 592.9,366.8 595.8,365.8 597.9,367.1 596.8,368.8 599.2,369.6 601.7,371.7 604.6,372.9M592.9,366.8 594.6,368.3 596.8,368.8M595.8,365.8 597.3,364.3 598.8,362.1"/>
<path class="l" d="M339.7,311.7 341.7,309.3M343,308.3 346.3,307.3M347.7,307 351,306.3M352.3,306.2 355.3,305.7M358.7,305 362,304.7"/>
<path class="l" d="M328,333.3 330.8,331.7 333.7,332M329.2,330.3 332.5,329.3 334.7,327.7M330,334.7 333.3,333.3 335.3,331.3M330.8,331.7 332,329.3"/>
<path class="l" d="M588.99,499.06 588.62,496.76"/>
<path class="l" d="M577.63,502.7 577.91,500.37"/>
<path class="l" d="M574.42,500.9 576.41,499.69"/>
<path class="l" d="M572.19,499.25 572.12,498"/>
<path class="l" d="M555.5,494.92 556.33,492.88"/>
<path class="l" d="M555.61,491.29 556.79,490.79"/>
<path class="l" d="M549.76,483.31 550.27,482.14"/>
<path class="l" d="M549.92,480.67 550.86,478.82"/>
<path class="l" d="M546.73,476.12 547.84,475.88"/>
<path class="l" d="M547.1,469.62 548.34,469.81"/>
<circle class="d" cx="376.3" cy="390.8" r="2.6" fill="#d2dadd"/>
<circle class="d" cx="400.8" cy="428.7" r="2.7" fill="#d2dadd"/>
<circle class="d" cx="404.8" cy="457.5" r="2.7" fill="#d2dadd"/>
<circle class="d" cx="352.5" cy="435" r="2.7" fill="#d2dadd"/>
<circle class="d" cx="300.3" cy="444.7" r="2.7" fill="#d2dadd"/>
<circle class="d" cx="425.5" cy="532.3" r="2.7" fill="#42ad75"/>

</svg>
<div class="t">Change in public debt between<br>2000 and 2015</div>
<div class="sw" style="top:54.2px;background:#42ad75"></div><div class="lb" style="top:52.1px">Decrease</div>
<div class="sw" style="top:70.3px;background:#e9d9a8"></div><div class="lb" style="top:68.2px">Increase &lt; 10 p.p.</div>
<div class="sw" style="top:86.4px;background:#d2b078"></div><div class="lb" style="top:84.3px">Increase 10 - 20 p.p.</div>
<div class="sw" style="top:102.5px;background:#ca8a54"></div><div class="lb" style="top:100.4px">Increase 20 - 30 p.p.</div>
<div class="sw" style="top:118.6px;background:#c5643d"></div><div class="lb" style="top:116.5px">Increase 30 - 40 p.p.</div>
<div class="sw" style="top:134.7px;background:#cd4537"></div><div class="lb" style="top:132.6px">Increase 40 -50 p.p.</div>
<div class="sw" style="top:150.8px;background:#930e10"></div><div class="lb" style="top:148.7px">Increase 50 - 60 p.p.</div>
<div class="sw" style="top:166.9px;background:#570608"></div><div class="lb" style="top:164.8px">Increase &gt; 70 p.p.</div>

</body></html>
